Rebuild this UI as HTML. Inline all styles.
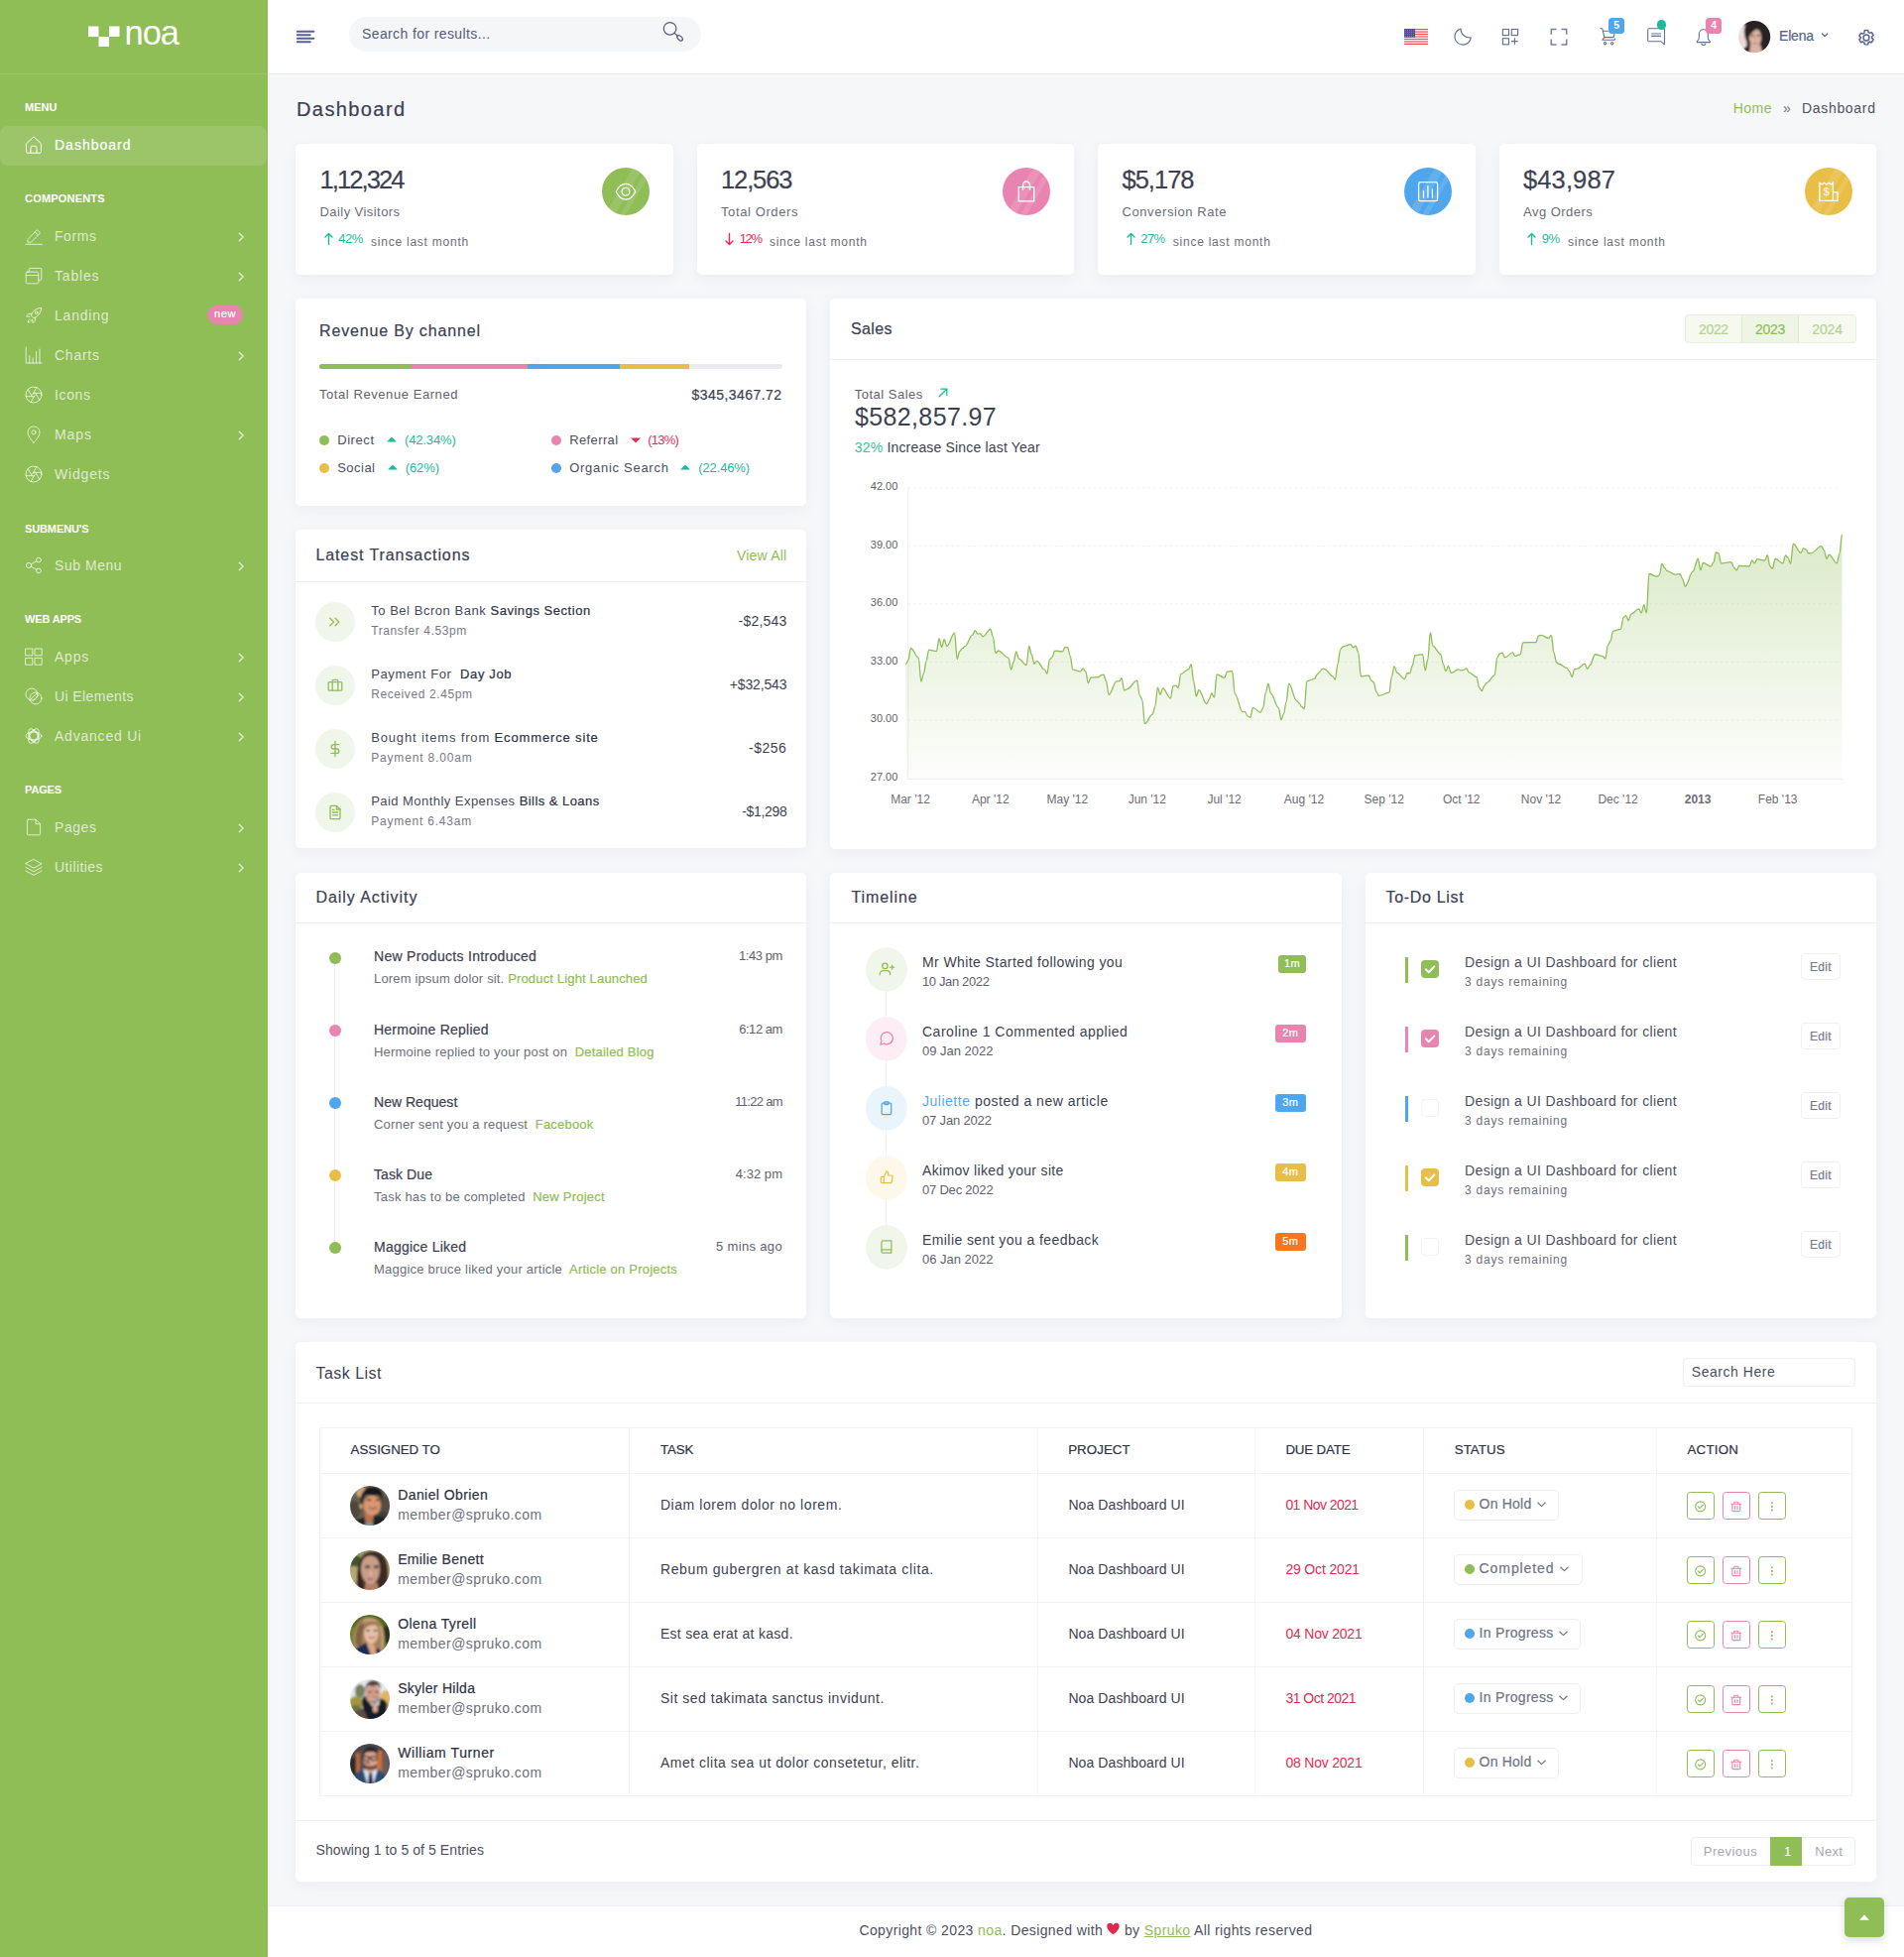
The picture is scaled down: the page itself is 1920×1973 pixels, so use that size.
<!DOCTYPE html>
<html lang="en"><head><meta charset="utf-8"><title>Noa Dashboard</title>
<style>
*{box-sizing:border-box;margin:0;padding:0}
html,body{width:1920px;height:1973px;overflow:hidden;background:#f6f7f9;font-family:"Liberation Sans",sans-serif;}
body{position:relative}
div,svg,span.t{position:absolute}
span.t{white-space:pre;line-height:1;display:block}
.wm{-webkit-text-stroke:0.2px currentColor}
.wn{-webkit-text-stroke:0 transparent;font-weight:normal}
.wb{font-weight:bold}
.card{background:#fff;border-radius:5px;box-shadow:0 4px 14px rgba(150,158,175,0.10)}
.hr{background:#eff0f4;height:1px}
svg{overflow:visible}
.si{fill:none;stroke:rgba(255,255,255,.72);stroke-width:1;stroke-linecap:round;stroke-linejoin:round}
.hi{fill:none;stroke:#626d93;stroke-width:1.15;stroke-linecap:round;stroke-linejoin:round}
</style></head><body>

<div style="left:0px;top:0px;width:270px;height:1973px;background:#8fbd56;"></div>
<div style="left:0px;top:74px;width:270px;height:1px;background:rgba(255,255,255,.12);"></div>
<svg style="left:88px;top:25px;" width="36" height="24" viewBox="0 0 36 24" ><rect x="1" y="1.5" width="10.5" height="10.5" fill="#fff"/><rect x="11.5" y="12" width="10.5" height="10" fill="#fff"/><rect x="22" y="1.5" width="10.5" height="10.5" fill="#fff"/></svg>
<span class="t" style="left:125.50px;top:15.80px;font-size:34.5px;letter-spacing:-1.021px;color:#fff;">noa</span>
<div style="left:0px;top:127px;width:269px;height:40px;background:rgba(255,255,255,.12);border-radius:8px;"></div>
<span class="t wb" style="left:25.00px;top:102.99px;font-size:11px;letter-spacing:0.028px;color:#fff;">MENU</span>
<span class="t wb" style="left:25.00px;top:194.69px;font-size:11px;letter-spacing:0.196px;color:#fff;">COMPONENTS</span>
<span class="t wb" style="left:25.00px;top:527.69px;font-size:11px;letter-spacing:-0.119px;color:#fff;">SUBMENU&#x27;S</span>
<span class="t wb" style="left:25.00px;top:619.09px;font-size:11px;letter-spacing:-0.158px;color:#fff;">WEB APPS</span>
<span class="t wb" style="left:25.00px;top:790.69px;font-size:11px;letter-spacing:-0.139px;color:#fff;">PAGES</span>
<svg class="si" style="left:25.200px;top:137.4px;stroke:#fff;" width="18" height="18" viewBox="0 0 18 18"><path d="M1.600 7.800 9 .9l7.400 6.900v8.200a1.200 1.200 0 0 1-1.200 1.200H2.800a1.200 1.200 0 0 1-1.200-1.200z"/><path d="M6 17.200v-5.400a1.600 1.600 0 0 1 1.600-1.600h2.800a1.600 1.600 0 0 1 1.600 1.600v5.400"/></svg>
<span class="t wm" style="left:55.00px;top:138.95px;font-size:14px;letter-spacing:1.012px;color:#fff;">Dashboard</span>
<svg class="si" style="left:25.200px;top:229.4px;" width="18" height="18" viewBox="0 0 18 18"><path d="M3.2 12.3 11.6 3.4a1.2 1.2 0 0 1 1.7 0l1.5 1.5a1.2 1.2 0 0 1 0 1.7L6.4 15.2H3.2z"/><path d="M10.2 4.9l3.1 3.1"/><path d="M1 17.3h16.5"/></svg>
<span class="t" style="left:55.00px;top:230.95px;font-size:14px;letter-spacing:0.567px;color:rgba(255,255,255,.72);">Forms</span>
<svg style="left:240px;top:234px" width="7" height="10" viewBox="0 0 7 10"><path d="M1.200 1.200 5.200 5 1.200 8.800" fill="none" stroke="rgba(255,255,255,.75)" stroke-width="1.300" stroke-linecap="round" stroke-linejoin="round"/></svg>
<svg class="si" style="left:25.200px;top:269.4px;" width="18" height="18" viewBox="0 0 18 18"><rect x="1.2" y="5.2" width="12.6" height="11.6" rx="1.2"/><path d="M1.2 8.6h12.6"/><path d="M4.2 5.2V2.6a1.2 1.2 0 0 1 1.2-1.2h10.2a1.2 1.2 0 0 1 1.2 1.2v9.6a1.2 1.2 0 0 1-1.2 1.2h-1.8"/><path d="M4.2 4h12.6" opacity=".0"/></svg>
<span class="t" style="left:55.00px;top:270.95px;font-size:14px;letter-spacing:0.805px;color:rgba(255,255,255,.72);">Tables</span>
<svg style="left:240px;top:274px" width="7" height="10" viewBox="0 0 7 10"><path d="M1.200 1.200 5.200 5 1.200 8.800" fill="none" stroke="rgba(255,255,255,.75)" stroke-width="1.300" stroke-linecap="round" stroke-linejoin="round"/></svg>
<svg class="si" style="left:25.200px;top:309.4px;" width="18" height="18" viewBox="0 0 18 18"><path d="M16.6 1.4c-4.2.1-7.3 2-9.6 5.9l-.9 1.6 3 3 1.6-.9c3.900-2.300 5.800-5.400 5.900-9.600z"/><circle cx="11.800" cy="6.200" r="1.400"/><path d="M7 7.300 3.600 7.500 1.500 10l3.300.5"/><path d="M10.700 11 10.500 14.400 8 16.500l-.5-3.300"/><path d="M5.200 12.800c-1.200.400-1.900 1.500-2.200 3.400 1.900-.300 3-1 3.400-2.200"/></svg>
<span class="t" style="left:55.00px;top:310.95px;font-size:14px;letter-spacing:0.796px;color:rgba(255,255,255,.72);">Landing</span>
<svg class="si" style="left:25.200px;top:349.4px;" width="18" height="18" viewBox="0 0 18 18"><path d="M1.200 1v16h16"/><path d="M4.800 17V9.500"/><path d="M8.200 17v-5"/><path d="M11.600 17V5.500"/><path d="M15 17V3"/></svg>
<span class="t" style="left:55.00px;top:350.95px;font-size:14px;letter-spacing:0.744px;color:rgba(255,255,255,.72);">Charts</span>
<svg style="left:240px;top:354px" width="7" height="10" viewBox="0 0 7 10"><path d="M1.200 1.200 5.200 5 1.200 8.800" fill="none" stroke="rgba(255,255,255,.75)" stroke-width="1.300" stroke-linecap="round" stroke-linejoin="round"/></svg>
<svg class="si" style="left:25.200px;top:389.4px;" width="18" height="18" viewBox="0 0 18 18"><circle cx="9" cy="9" r="8"/><path d="M11.900 1.600 7.600 9"/><path d="M16.800 7.300H8.300"/><path d="M14.900 14.500 10.600 7"/><path d="M6.100 16.400 10.400 9"/><path d="M1.200 10.700h8.500"/><path d="M3.100 3.500 7.400 11"/></svg>
<span class="t" style="left:55.00px;top:390.95px;font-size:14px;letter-spacing:0.648px;color:rgba(255,255,255,.72);">Icons</span>
<svg class="si" style="left:25.200px;top:429.4px;" width="18" height="18" viewBox="0 0 18 18"><path d="M9 17.200s6-5.700 6-10.300a6 6 0 0 0-12 0c0 4.600 6 10.300 6 10.300z"/><circle cx="9" cy="6.900" r="2.100"/></svg>
<span class="t" style="left:55.00px;top:430.95px;font-size:14px;letter-spacing:0.891px;color:rgba(255,255,255,.72);">Maps</span>
<svg style="left:240px;top:434px" width="7" height="10" viewBox="0 0 7 10"><path d="M1.200 1.200 5.200 5 1.200 8.800" fill="none" stroke="rgba(255,255,255,.75)" stroke-width="1.300" stroke-linecap="round" stroke-linejoin="round"/></svg>
<svg class="si" style="left:25.200px;top:469.4px;" width="18" height="18" viewBox="0 0 18 18"><circle cx="9" cy="9" r="8"/><path d="M11.900 1.600 7.600 9"/><path d="M16.800 7.300H8.300"/><path d="M14.900 14.500 10.600 7"/><path d="M6.100 16.400 10.400 9"/><path d="M1.200 10.700h8.500"/><path d="M3.100 3.500 7.400 11"/></svg>
<span class="t" style="left:55.00px;top:470.95px;font-size:14px;letter-spacing:0.832px;color:rgba(255,255,255,.72);">Widgets</span>
<svg class="si" style="left:25.200px;top:561.4px;" width="18" height="18" viewBox="0 0 18 18"><circle cx="4" cy="9" r="2.600"/><circle cx="14" cy="3.600" r="2.400"/><circle cx="14" cy="14.400" r="2.400"/><path d="M6.300 7.800 11.900 4.700"/><path d="M6.300 10.200 11.900 13.300"/></svg>
<span class="t" style="left:55.00px;top:562.95px;font-size:14px;letter-spacing:0.547px;color:rgba(255,255,255,.72);">Sub Menu</span>
<svg style="left:240px;top:566px" width="7" height="10" viewBox="0 0 7 10"><path d="M1.200 1.200 5.200 5 1.200 8.800" fill="none" stroke="rgba(255,255,255,.75)" stroke-width="1.300" stroke-linecap="round" stroke-linejoin="round"/></svg>
<svg class="si" style="left:25.200px;top:653.4px;" width="18" height="18" viewBox="0 0 18 18"><rect x="1" y="1" width="6.800" height="6.800"/><rect x="10.400" y="1" width="6.800" height="6.800"/><rect x="1" y="10.400" width="6.800" height="6.800"/><rect x="10.400" y="10.400" width="6.800" height="6.800"/></svg>
<span class="t" style="left:55.00px;top:654.95px;font-size:14px;letter-spacing:0.772px;color:rgba(255,255,255,.72);">Apps</span>
<svg style="left:240px;top:658px" width="7" height="10" viewBox="0 0 7 10"><path d="M1.200 1.200 5.200 5 1.200 8.800" fill="none" stroke="rgba(255,255,255,.75)" stroke-width="1.300" stroke-linecap="round" stroke-linejoin="round"/></svg>
<svg class="si" style="left:25.200px;top:693.4px;" width="18" height="18" viewBox="0 0 18 18"><circle cx="7" cy="7" r="6"/><circle cx="11" cy="11" r="6"/><path d="M6.200 11.800 11.800 6.200"/><path d="M8.400 13.400 13.400 8.400"/></svg>
<span class="t" style="left:55.00px;top:694.95px;font-size:14px;letter-spacing:0.412px;color:rgba(255,255,255,.72);">Ui Elements</span>
<svg style="left:240px;top:698px" width="7" height="10" viewBox="0 0 7 10"><path d="M1.200 1.200 5.200 5 1.200 8.800" fill="none" stroke="rgba(255,255,255,.75)" stroke-width="1.300" stroke-linecap="round" stroke-linejoin="round"/></svg>
<svg class="si" style="left:25.200px;top:733.4px;" width="18" height="18" viewBox="0 0 18 18"><ellipse cx="9" cy="9" rx="8" ry="3.900" transform="rotate(60 9 9)"/><ellipse cx="9" cy="9" rx="8" ry="3.900" transform="rotate(-60 9 9)"/><ellipse cx="9" cy="9" rx="8" ry="3.900"/><circle cx="9" cy="9" r="5.200"/></svg>
<span class="t" style="left:55.00px;top:734.95px;font-size:14px;letter-spacing:0.784px;color:rgba(255,255,255,.72);">Advanced Ui</span>
<svg style="left:240px;top:738px" width="7" height="10" viewBox="0 0 7 10"><path d="M1.200 1.200 5.200 5 1.200 8.800" fill="none" stroke="rgba(255,255,255,.75)" stroke-width="1.300" stroke-linecap="round" stroke-linejoin="round"/></svg>
<svg class="si" style="left:25.200px;top:825.4px;" width="18" height="18" viewBox="0 0 18 18"><path d="M3 1.200h7.500L15 5.700v9.900a1.200 1.200 0 0 1-1.200 1.200H3a1.200 1.200 0 0 1-1.200-1.200V2.400A1.200 1.200 0 0 1 3 1.200z" transform="translate(.6 0)"/><path d="M11 1.400v4.400h4.400"/></svg>
<span class="t" style="left:55.00px;top:826.95px;font-size:14px;letter-spacing:0.560px;color:rgba(255,255,255,.72);">Pages</span>
<svg style="left:240px;top:830px" width="7" height="10" viewBox="0 0 7 10"><path d="M1.200 1.200 5.200 5 1.200 8.800" fill="none" stroke="rgba(255,255,255,.75)" stroke-width="1.300" stroke-linecap="round" stroke-linejoin="round"/></svg>
<svg class="si" style="left:25.200px;top:865.4px;" width="18" height="18" viewBox="0 0 18 18"><path d="M9 1.500 17 5.800 9 10.100 1 5.800z"/><path d="M1 9.400 9 13.700l8-4.300"/><path d="M1 13 9 17.300l8-4.300"/></svg>
<span class="t" style="left:55.00px;top:866.95px;font-size:14px;letter-spacing:0.431px;color:rgba(255,255,255,.72);">Utilities</span>
<svg style="left:240px;top:870px" width="7" height="10" viewBox="0 0 7 10"><path d="M1.200 1.200 5.200 5 1.200 8.800" fill="none" stroke="rgba(255,255,255,.75)" stroke-width="1.300" stroke-linecap="round" stroke-linejoin="round"/></svg>
<div style="left:209px;top:308px;width:36px;height:19px;background:#e984b0;border-radius:10px;"></div>
<span class="t wm" style="left:216.00px;top:311.19px;font-size:11px;letter-spacing:0.607px;color:#fff;">new</span>
<div style="left:270px;top:0px;width:1650px;height:74px;background:#fff;"></div>
<div style="left:270px;top:74px;width:1650px;height:1px;background:#e9ebf1;"></div>
<svg style="left:299px;top:30px;" width="19" height="14" viewBox="0 0 19 14" ><g stroke="#55628f" stroke-width="1.900" stroke-linecap="round"><path d="M.8 1.700h16.600"/><path d="M.8 5.200h13"/><path d="M.8 8.700h16.600"/><path d="M.8 12.200h13"/></g></svg>
<div style="left:352px;top:17px;width:355px;height:35px;background:#f5f6f8;border-radius:18px;"></div>
<span class="t" style="left:365.00px;top:27.45px;font-size:14px;letter-spacing:0.387px;color:#535d7c;">Search for results...</span>
<svg style="left:667px;top:20px;" width="24" height="24" viewBox="0 0 24 24" ><g fill="none" stroke="#535d7c" stroke-width="1.250"><circle cx="8.600" cy="8.800" r="6.300"/><path d="M13.200 13.400 16.200 16.200" stroke-linecap="round"/><ellipse cx="18.600" cy="18.300" rx="3.300" ry="1.900" transform="rotate(42 18.600 18.300)"/></g></svg>
<svg style="left:1416px;top:29px;" width="24" height="16" viewBox="0 0 24 16" ><rect width="24" height="16" fill="#fff"/><rect y="0.00" width="24" height="1.23" fill="#f94e59"/><rect y="2.46" width="24" height="1.23" fill="#f94e59"/><rect y="4.92" width="24" height="1.23" fill="#f94e59"/><rect y="7.38" width="24" height="1.23" fill="#f94e59"/><rect y="9.85" width="24" height="1.23" fill="#f94e59"/><rect y="12.31" width="24" height="1.23" fill="#f94e59"/><rect y="14.77" width="24" height="1.23" fill="#f94e59"/><rect width="11" height="8.600" fill="#4a4ea0"/><circle cx="1.20" cy="1.20" r=".450" fill="#b9bbe0"/><circle cx="3.35" cy="1.20" r=".450" fill="#b9bbe0"/><circle cx="5.50" cy="1.20" r=".450" fill="#b9bbe0"/><circle cx="7.65" cy="1.20" r=".450" fill="#b9bbe0"/><circle cx="9.80" cy="1.20" r=".450" fill="#b9bbe0"/><circle cx="1.20" cy="3.30" r=".450" fill="#b9bbe0"/><circle cx="3.35" cy="3.30" r=".450" fill="#b9bbe0"/><circle cx="5.50" cy="3.30" r=".450" fill="#b9bbe0"/><circle cx="7.65" cy="3.30" r=".450" fill="#b9bbe0"/><circle cx="9.80" cy="3.30" r=".450" fill="#b9bbe0"/><circle cx="1.20" cy="5.40" r=".450" fill="#b9bbe0"/><circle cx="3.35" cy="5.40" r=".450" fill="#b9bbe0"/><circle cx="5.50" cy="5.40" r=".450" fill="#b9bbe0"/><circle cx="7.65" cy="5.40" r=".450" fill="#b9bbe0"/><circle cx="9.80" cy="5.40" r=".450" fill="#b9bbe0"/><circle cx="1.20" cy="7.50" r=".450" fill="#b9bbe0"/><circle cx="3.35" cy="7.50" r=".450" fill="#b9bbe0"/><circle cx="5.50" cy="7.50" r=".450" fill="#b9bbe0"/><circle cx="7.65" cy="7.50" r=".450" fill="#b9bbe0"/><circle cx="9.80" cy="7.50" r=".450" fill="#b9bbe0"/></svg>
<svg style="left:0;top:0" width="1920" height="74" viewBox="0 0 1920 74"><g fill="none" stroke="#65709a" stroke-width="1.150" stroke-linecap="round" stroke-linejoin="round"><path d="M1473 29A8.200 8.200 0 1 0 1483.300 37.900A9 9 0 0 1 1473 29z"/><g stroke-linejoin="miter"><rect x="1515.400" y="29.500" width="6.100" height="6.100"/><rect x="1524.300" y="29.500" width="6.300" height="6.100"/><rect x="1515.400" y="38.700" width="6.100" height="6.100"/></g><path d="M1527.400 38.600v6M1524.400 41.600h6"/></g><g fill="none" stroke="#77819f" stroke-width="1.500" stroke-linejoin="miter"><path d="M1564.300 34.800V29.500h5.300M1574.400 29.500h5.300v5.300M1579.700 39.600v5.300h-5.300M1569.600 44.900h-5.300v-5.300"/></g><g fill="none" stroke="#65709a" stroke-width="1.100" stroke-linecap="round" stroke-linejoin="round"><path d="M1614 28.500l1.900.600 1.900 8.500h9.300l1.300-5.800"/><path d="M1616.400 31.200h5"/><path d="M1617.800 37.600l-1.900 2.600h12.200l.6-1.200"/><circle cx="1618.600" cy="43.700" r="1.150"/><circle cx="1625.600" cy="43.700" r="1.150"/><path d="M1662.900 28.800h14.400a1.200 1.200 0 0 1 1.200 1.200v14.800l-3.500-3h-12.100a1.200 1.200 0 0 1-1.200-1.200V30a1.200 1.200 0 0 1 1.200-1.200z"/><path d="M1717.800 29.700a4.500 4.500 0 0 1 4.500 4.500v4.100c0 1.700.9 2.500 2.100 3.300v1h-13.200v-1c1.200-.8 2.100-1.600 2.100-3.300v-4.100a4.500 4.500 0 0 1 4.500-4.500z"/><path d="M1715.700 44a2.200 2.200 0 0 0 4.200 0"/></g><path d="M1665.200 33.900h9.800" stroke="#9aa2ba" stroke-width="1.500" fill="none"/><path d="M1665.200 36.300h9.800" stroke="#65709a" stroke-width="1.300" fill="none"/></svg>
<div style="left:1622px;top:18.3px;width:16px;height:15.6px;background:#4fa6ec;border-radius:3.500px;"></div>
<span class="t wb" style="left:1627.20px;top:20.31px;font-size:10.5px;letter-spacing:0.160px;color:#fff;">5</span>
<div style="left:1670.8px;top:20.4px;width:9.6px;height:9.6px;background:#1eb99a;border-radius:50%;"></div>
<div style="left:1720px;top:18.3px;width:16px;height:15.6px;background:#e984b0;border-radius:3.500px;"></div>
<span class="t wb" style="left:1725.20px;top:20.31px;font-size:10.5px;letter-spacing:0.160px;color:#fff;">4</span>
<svg style="left:1753px;top:20.9px;" width="32.2" height="32.2" viewBox="0 0 32.2 32.2" ><defs><clipPath id="cE"><circle cx="16.100" cy="16.100" r="16.100"/></clipPath><filter id="bl1" x="-10%" y="-10%" width="120%" height="120%"><feGaussianBlur stdDeviation="0.85"/></filter></defs><g clip-path="url(#cE)"><g filter="url(#bl1)"><rect x="-2" y="-2" width="37" height="37" fill="#2a2124"/><path d="M-2 4h9c-1.500 4-1.500 8-.5 12 1 3.500 2.500 6 2 9l-4 4-6.500 1z" fill="#ece2e2"/><path d="M0 15c2.500-1 4.500 0 5.500 2l1.500 6-4 3-3-2z" fill="#f0d6d6"/><path d="M12 23c2 3 7.500 3.400 10 .5l3 12h-14z" fill="#d9b3a6"/><ellipse cx="17" cy="16.800" rx="6.100" ry="9.400" fill="#dcb4a3"/><path d="M10.300 17c-.8-7 1.800-11.800 6.500-12 4.500-.2 7.600 3.400 7.200 10-1-3-2.800-5.600-5.200-6.600-2.600.6-6 3.600-8.500 8.600z" fill="#2a2124"/><path d="M12.800 14.800h3.200M18.600 14.800h3.200" stroke="#3d2a28" stroke-width="1.200"/><path d="M15.200 22.300q1.900.9 3.800 0" stroke="#b8666d" stroke-width="1.200" fill="none"/><path d="M16.900 16v3.600" stroke="#c79a8a" stroke-width=".8"/></g></g></svg>
<span class="t wm" style="left:1794.00px;top:29.15px;font-size:14px;letter-spacing:-0.182px;color:#56628f;">Elena</span>
<svg style="left:1836px;top:33.200px" width="9" height="6" viewBox="0 0 9 6"><path d="M1.500 1 4.150 3.650 6.800 1" fill="none" stroke="#56628f" stroke-width="1.200" stroke-linecap="round" stroke-linejoin="round"/></svg>
<svg style="left:1872.9px;top:28.9px;" width="18" height="18" viewBox="0 0 18 18" ><g fill="none" stroke="#56628f" stroke-width="1.500" stroke-linejoin="round" transform="translate(9 9) scale(.970) translate(-9 -9)"><circle cx="9" cy="9" r="3"/><path d="M7.300 1.200h3.400l.5 2.200 1.300.75 2.150-.700 1.700 2.950-1.650 1.500v1.500l1.650 1.500-1.700 2.950-2.150-.700-1.300.75-.5 2.200H7.300l-.5-2.200-1.300-.75-2.150.700-1.700-2.950 1.650-1.500V8.650L1.650 7.150l1.700-2.950 2.150.700 1.300-.75z"/></g></svg>
<span class="t wm" style="left:299.00px;top:100.07px;font-size:20px;letter-spacing:1.406px;color:#3a4053;">Dashboard</span>
<span class="t" style="left:1747.70px;top:102.15px;font-size:14px;letter-spacing:0.488px;color:#8fbd56;">Home</span>
<span class="t" style="left:1798.00px;top:101.65px;font-size:14px;letter-spacing:0.614px;color:#6c6f7c;">»</span>
<span class="t" style="left:1817.00px;top:102.15px;font-size:14px;letter-spacing:0.679px;color:#4d5264;">Dashboard</span>
<div class="card" style="left:298px;top:145px;width:380.5px;height:131.5px;"></div>
<span class="t wm" style="left:322.50px;top:168.91px;font-size:25.5px;letter-spacing:-1.908px;color:#3c4152;">1,12,324</span>
<span class="t" style="left:322.50px;top:207.00px;font-size:13px;letter-spacing:0.436px;color:#6a6d7a;">Daily Visitors</span>
<svg style="left:326.5px;top:234px" width="9" height="14" viewBox="0 0 9 14"><g fill="none" stroke="#1eb99a" stroke-width="1.400" stroke-linecap="round" stroke-linejoin="round"><path d="M4.500 12.500V1.500M1 5 4.500 1.500 8 5"/></g></svg>
<span class="t" style="left:341.30px;top:234.00px;font-size:13px;letter-spacing:-0.506px;color:#1eb99a;">42%</span>
<span class="t" style="left:374.10px;top:237.84px;font-size:12px;letter-spacing:0.756px;color:#6a6d7a;">since last month</span>
<svg style="left:606.5px;top:169px;" width="48" height="48" viewBox="0 0 48 48" ><defs><clipPath id="cs0"><circle cx="24" cy="24" r="24"/></clipPath></defs><circle cx="24" cy="24" r="24" fill="#8fbd56"/><g clip-path="url(#cs0)" fill="#fff" opacity=".115"><path d="M31 0h10L12.900 48h-10z"/><path d="M46 0h6L23.900 48h-6z"/></g><g fill="none" stroke="#fff" stroke-width="1.250"><path d="M14.200 24.200c2.600-5.300 5.900-7.800 9.800-7.800s7.200 2.500 9.800 7.800c-2.600 5.300-5.900 7.800-9.800 7.800s-7.200-2.500-9.800-7.800z" stroke-linejoin="round"/><circle cx="24" cy="24.200" r="3.900"/></g></svg>
<div class="card" style="left:702.5px;top:145px;width:380.5px;height:131.5px;"></div>
<span class="t wm" style="left:727.00px;top:168.91px;font-size:25.5px;letter-spacing:-1.116px;color:#3c4152;">12,563</span>
<span class="t" style="left:727.00px;top:207.00px;font-size:13px;letter-spacing:0.600px;color:#6a6d7a;">Total Orders</span>
<svg style="left:731px;top:234px" width="9" height="14" viewBox="0 0 9 14"><g fill="none" stroke="#de2e55" stroke-width="1.400" stroke-linecap="round" stroke-linejoin="round"><path d="M4.500 1.500v11M1 9l3.500 3.500L8 9"/></g></svg>
<span class="t" style="left:745.80px;top:234.00px;font-size:13px;letter-spacing:-1.406px;color:#de2e55;">12%</span>
<span class="t" style="left:775.90px;top:237.84px;font-size:12px;letter-spacing:0.756px;color:#6a6d7a;">since last month</span>
<svg style="left:1011px;top:169px;" width="48" height="48" viewBox="0 0 48 48" ><defs><clipPath id="cs1"><circle cx="24" cy="24" r="24"/></clipPath></defs><circle cx="24" cy="24" r="24" fill="#e984b0"/><g clip-path="url(#cs1)" fill="#fff" opacity=".115"><path d="M31 0h10L12.900 48h-10z"/><path d="M46 0h6L23.900 48h-6z"/></g><g fill="none" stroke="#fff" stroke-width="1.300"><path d="M16.300 19.700h15.400v14.200H16.300z"/><path d="M20.500 22.800v-5.300a3.500 3.500 0 0 1 7 0v5.300" stroke-linecap="butt"/></g></svg>
<div class="card" style="left:1107px;top:145px;width:380.5px;height:131.5px;"></div>
<span class="t wm" style="left:1131.50px;top:168.91px;font-size:25.5px;letter-spacing:-0.999px;color:#3c4152;">$5,178</span>
<span class="t" style="left:1131.50px;top:207.00px;font-size:13px;letter-spacing:0.578px;color:#6a6d7a;">Conversion Rate</span>
<svg style="left:1135.5px;top:234px" width="9" height="14" viewBox="0 0 9 14"><g fill="none" stroke="#1eb99a" stroke-width="1.400" stroke-linecap="round" stroke-linejoin="round"><path d="M4.500 12.500V1.500M1 5 4.500 1.500 8 5"/></g></svg>
<span class="t" style="left:1150.30px;top:234.00px;font-size:13px;letter-spacing:-0.606px;color:#1eb99a;">27%</span>
<span class="t" style="left:1182.80px;top:237.84px;font-size:12px;letter-spacing:0.756px;color:#6a6d7a;">since last month</span>
<svg style="left:1415.5px;top:169px;" width="48" height="48" viewBox="0 0 48 48" ><defs><clipPath id="cs2"><circle cx="24" cy="24" r="24"/></clipPath></defs><circle cx="24" cy="24" r="24" fill="#4fa6ec"/><g clip-path="url(#cs2)" fill="#fff" opacity=".115"><path d="M31 0h10L12.900 48h-10z"/><path d="M46 0h6L23.900 48h-6z"/></g><g fill="none" stroke="#fff" stroke-width="1.300"><rect x="14.600" y="14.700" width="19" height="19" rx="1.800"/><path d="M19.500 30.200v-6.600M23.900 30.200V18.600M28.400 30.200v-8.400" stroke-linecap="round"/></g></svg>
<div class="card" style="left:1511.5px;top:145px;width:380.5px;height:131.5px;"></div>
<span class="t wm" style="left:1536.00px;top:168.91px;font-size:25.5px;letter-spacing:0.117px;color:#3c4152;">$43,987</span>
<span class="t" style="left:1536.00px;top:207.00px;font-size:13px;letter-spacing:0.479px;color:#6a6d7a;">Avg Orders</span>
<svg style="left:1540px;top:234px" width="9" height="14" viewBox="0 0 9 14"><g fill="none" stroke="#1eb99a" stroke-width="1.400" stroke-linecap="round" stroke-linejoin="round"><path d="M4.500 12.500V1.500M1 5 4.500 1.500 8 5"/></g></svg>
<span class="t" style="left:1554.80px;top:234.00px;font-size:13px;letter-spacing:-0.445px;color:#1eb99a;">9%</span>
<span class="t" style="left:1581.00px;top:237.84px;font-size:12px;letter-spacing:0.756px;color:#6a6d7a;">since last month</span>
<svg style="left:1820px;top:169px;" width="48" height="48" viewBox="0 0 48 48" ><defs><clipPath id="cs3"><circle cx="24" cy="24" r="24"/></clipPath></defs><circle cx="24" cy="24" r="24" fill="#e9be47"/><g clip-path="url(#cs3)" fill="#fff" opacity=".115"><path d="M31 0h10L12.900 48h-10z"/><path d="M46 0h6L23.900 48h-6z"/></g><g fill="none" stroke="#fff" stroke-width="1.250" stroke-linejoin="miter"><path d="M14.900 33.300V15.200l2.300 1.700 2.300-1.700 2.300 1.700 2.300-1.700 2.300 1.700 2.000-1.700v18.100z"/><path d="M28.400 24.800h4.700v8.500h-4.700"/></g><text x="21.600" y="27.900" font-size="10.500" fill="#fff" text-anchor="middle" font-family="Liberation Sans">$</text></svg>
<div class="card" style="left:298px;top:301px;width:515px;height:208.8px;"></div>
<span class="t wm" style="left:322.00px;top:326.06px;font-size:16px;letter-spacing:0.841px;color:#3a4053;">Revenue By channel</span>
<div style="left:322px;top:367px;width:466.6px;height:5px;background:#ebebee;border-radius:3px;overflow:hidden;"><div style="left:0;top:0;height:5px;width:93.300px;background:#8fbd56"></div><div style="left:93.300px;top:0;height:5px;width:116.700px;background:#e984b0"></div><div style="left:210px;top:0;height:5px;width:93.300px;background:#4fa6ec"></div><div style="left:303.300px;top:0;height:5px;width:70px;background:#e9be47"></div></div>
<span class="t" style="left:322.00px;top:391.00px;font-size:13px;letter-spacing:0.568px;color:#5f6270;">Total Revenue Earned</span>
<span class="t wm" style="left:697.60px;top:390.85px;font-size:14px;letter-spacing:0.446px;color:#3c4152;">$345,3467.72</span>
<div style="left:322px;top:439px;width:10px;height:10px;background:#8fbd56;border-radius:50%;"></div>
<span class="t" style="left:340.20px;top:436.90px;font-size:13px;letter-spacing:0.575px;color:#4b4f5f;">Direct</span>
<svg style="left:389.8px;top:439.5px" width="10" height="6" viewBox="0 0 10 6"><path d="M0 5.500 5 .5l5 5z" fill="#1eb99a"/></svg>
<span class="t" style="left:408.00px;top:437.30px;font-size:13px;letter-spacing:-0.144px;color:#1eb99a;">(42.34%)</span>
<div style="left:556px;top:439px;width:10px;height:10px;background:#e984b0;border-radius:50%;"></div>
<span class="t" style="left:574.20px;top:436.90px;font-size:13px;letter-spacing:0.383px;color:#4b4f5f;">Referral</span>
<svg style="left:635.5px;top:441px" width="10" height="6" viewBox="0 0 10 6"><path d="M0 .5h10L5 5.500z" fill="#de2e55"/></svg>
<span class="t" style="left:653.30px;top:437.30px;font-size:13px;letter-spacing:-0.796px;color:#de2e55;">(13%)</span>
<div style="left:322px;top:467px;width:10px;height:10px;background:#e9be47;border-radius:50%;"></div>
<span class="t" style="left:340.20px;top:464.90px;font-size:13px;letter-spacing:0.482px;color:#4b4f5f;">Social</span>
<svg style="left:391px;top:467.5px" width="10" height="6" viewBox="0 0 10 6"><path d="M0 5.500 5 .5l5 5z" fill="#1eb99a"/></svg>
<span class="t" style="left:408.80px;top:465.30px;font-size:13px;letter-spacing:-0.116px;color:#1eb99a;">(62%)</span>
<div style="left:556px;top:467px;width:10px;height:10px;background:#4fa6ec;border-radius:50%;"></div>
<span class="t" style="left:574.20px;top:464.90px;font-size:13px;letter-spacing:0.720px;color:#4b4f5f;">Organic Search</span>
<svg style="left:686.2px;top:467.5px" width="10" height="6" viewBox="0 0 10 6"><path d="M0 5.500 5 .5l5 5z" fill="#1eb99a"/></svg>
<span class="t" style="left:704.30px;top:465.30px;font-size:13px;letter-spacing:-0.131px;color:#1eb99a;">(22.46%)</span>
<div class="card" style="left:298px;top:534px;width:515px;height:320.7px;"></div>
<span class="t wm" style="left:318.40px;top:551.86px;font-size:16px;letter-spacing:0.908px;color:#3a4053;">Latest Transactions</span>
<span class="t" style="left:742.90px;top:553.15px;font-size:14px;letter-spacing:0.216px;color:#8fbd56;">View All</span>
<div class="hr" style="left:298px;top:586px;width:515px;height:1px;"></div>
<svg style="left:318.400px;top:607.2px" width="40" height="40" viewBox="0 0 40 40"><circle cx="20" cy="20" r="20" fill="#f1f6ea"/><g fill="none" stroke="#8fbd56" stroke-width="1.300" stroke-linecap="round" stroke-linejoin="round"><path d="M14.800 16.200 18.600 20l-3.800 3.800M20 16.200 23.800 20 20 23.800" /></g></svg>
<span class="t" style="left:374.20px;top:608.80px;font-size:13px;letter-spacing:0.537px;color:#454a5b;"><span class="" style="color:#454a5b;">To Bel Bcron Bank </span><span class="wm" style="color:#2c3245;">Savings Section</span></span>
<span class="t" style="left:374.20px;top:629.54px;font-size:12px;letter-spacing:0.607px;color:#777a86;">Transfer 4.53pm</span>
<span class="t" style="left:744.60px;top:619.05px;font-size:14px;letter-spacing:0.188px;color:#3c4152;">-$2,543</span>
<svg style="left:318.400px;top:671.2px" width="40" height="40" viewBox="0 0 40 40"><circle cx="20" cy="20" r="20" fill="#f1f6ea"/><g fill="none" stroke="#8fbd56" stroke-width="1.300" stroke-linecap="round" stroke-linejoin="round"><rect x="13.200" y="16.600" width="13.600" height="8.600" rx="1"/><path d="M17.200 25.200v-9.800a1 1 0 0 1 1-1h3.600a1 1 0 0 1 1 1v9.800"/></g></svg>
<span class="t" style="left:374.20px;top:672.80px;font-size:13px;letter-spacing:0.634px;color:#454a5b;"><span class="" style="color:#454a5b;">Payment For  </span><span class="wm" style="color:#2c3245;">Day Job</span></span>
<span class="t" style="left:374.20px;top:693.54px;font-size:12px;letter-spacing:0.601px;color:#777a86;">Received 2.45pm</span>
<span class="t" style="left:735.80px;top:683.05px;font-size:14px;letter-spacing:-0.148px;color:#3c4152;">+$32,543</span>
<svg style="left:318.400px;top:735.2px" width="40" height="40" viewBox="0 0 40 40"><circle cx="20" cy="20" r="20" fill="#f1f6ea"/><g fill="none" stroke="#8fbd56" stroke-width="1.300" stroke-linecap="round" stroke-linejoin="round"><path d="M20 12.500v15"/><path d="M23.600 15.600h-5.200a2.200 2.200 0 0 0 0 4.400h3.200a2.200 2.200 0 0 1 0 4.400h-5.600"/></g></svg>
<span class="t" style="left:374.20px;top:736.80px;font-size:13px;letter-spacing:0.850px;color:#454a5b;"><span class="" style="color:#454a5b;">Bought items from </span><span class="wm" style="color:#2c3245;">Ecommerce site</span></span>
<span class="t" style="left:374.20px;top:757.54px;font-size:12px;letter-spacing:0.834px;color:#777a86;">Payment 8.00am</span>
<span class="t" style="left:755.10px;top:747.05px;font-size:14px;letter-spacing:0.498px;color:#3c4152;">-$256</span>
<svg style="left:318.400px;top:799.2px" width="40" height="40" viewBox="0 0 40 40"><circle cx="20" cy="20" r="20" fill="#f1f6ea"/><g fill="none" stroke="#8fbd56" stroke-width="1.300" stroke-linecap="round" stroke-linejoin="round"><path d="M21.400 13.400h-5.200a1.200 1.200 0 0 0-1.200 1.200v10.800a1.200 1.200 0 0 0 1.200 1.200h7.600a1.200 1.200 0 0 0 1.200-1.200V17z"/><path d="M21.400 13.400V17H25"/><path d="M17.400 20h5.200M17.400 22.800h5.200M17.400 17.400h1.600"/></g></svg>
<span class="t" style="left:374.20px;top:800.80px;font-size:13px;letter-spacing:0.454px;color:#454a5b;"><span class="" style="color:#454a5b;">Paid Monthly Expenses </span><span class="wm" style="color:#2c3245;">Bills &amp; Loans</span></span>
<span class="t" style="left:374.20px;top:821.54px;font-size:12px;letter-spacing:0.792px;color:#777a86;">Payment 6.43am</span>
<span class="t" style="left:748.30px;top:811.05px;font-size:14px;letter-spacing:-0.341px;color:#3c4152;">-$1,298</span>
<div class="card" style="left:837.3px;top:301px;width:1054.7px;height:554.7px;"></div>
<span class="t wm" style="left:858.00px;top:324.26px;font-size:16px;letter-spacing:0.395px;color:#3a4053;">Sales</span>
<div class="hr" style="left:837.3px;top:362px;width:1054.7px;height:1px;"></div>
<div style="left:1699px;top:317px;width:173px;height:29px;background:#f5f9ef;border:1px solid #e6f0d9;border-radius:4px;"></div>
<div style="left:1756px;top:317px;width:58px;height:29px;background:#eef5e5;border-left:1px solid #dcebc9;border-right:1px solid #dcebc9;border-top:1px solid #e6f0d9;border-bottom:1px solid #e6f0d9;"></div>
<span class="t wm" style="left:1713.00px;top:324.65px;font-size:14px;letter-spacing:-0.336px;color:#b4d48f;">2022</span>
<span class="t wm" style="left:1770.00px;top:324.65px;font-size:14px;letter-spacing:-0.286px;color:#8fbd56;">2023</span>
<span class="t wm" style="left:1827.35px;top:324.65px;font-size:14px;letter-spacing:-0.161px;color:#b4d48f;">2024</span>
<span class="t" style="left:861.80px;top:391.00px;font-size:13px;letter-spacing:0.492px;color:#5f6270;">Total Sales</span>
<svg style="left:945.500px;top:390.500px" width="10" height="10" viewBox="0 0 10 10"><path d="M1.200 8.800 8.500 1.500M2.800 1.200h6v6" fill="none" stroke="#1eb99a" stroke-width="1.300" stroke-linecap="round" stroke-linejoin="round"/></svg>
<span class="t" style="left:862.00px;top:408.14px;font-size:25px;letter-spacing:0.361px;color:#3c4152;">$582,857.97</span>
<span class="t" style="left:861.80px;top:444.15px;font-size:14px;letter-spacing:0.174px;color:#3c4152;"><span class="" style="color:#3cc0a0;">32%</span> Increase Since last Year</span>
<svg style="left:0;top:0;font-family:'Liberation Sans',sans-serif" width="1920" height="900" viewBox="0 0 1920 900"><defs><linearGradient id="ag" x1="0" y1="539" x2="0" y2="784.700" gradientUnits="userSpaceOnUse"><stop offset="0" stop-color="#8fbd56" stop-opacity=".320"/><stop offset="1" stop-color="#8fbd56" stop-opacity=".020"/></linearGradient></defs><path d="M915.500 491.80H1854" stroke="#eeeff3" stroke-width="1" stroke-dasharray="2.500 3" fill="none"/><path d="M915.500 550.38H1854" stroke="#eeeff3" stroke-width="1" stroke-dasharray="2.500 3" fill="none"/><path d="M915.500 608.96H1854" stroke="#eeeff3" stroke-width="1" stroke-dasharray="2.500 3" fill="none"/><path d="M915.500 667.54H1854" stroke="#eeeff3" stroke-width="1" stroke-dasharray="2.500 3" fill="none"/><path d="M915.500 726.12H1854" stroke="#eeeff3" stroke-width="1" stroke-dasharray="2.500 3" fill="none"/><path d="M915.750 491.8V784.7" stroke="#eeeff3" stroke-width="1"/><path d="M915.500 785.300H1858" stroke="#e8e9ed" stroke-width="1"/><path d="M913.30 669.69C914.21 669.69 914.98 665.59 915.89 665.59C916.80 665.59 917.58 653.29 918.49 653.29C921.21 653.29 923.54 663.24 926.27 663.24C927.18 663.24 927.95 687.26 928.86 687.26C929.77 687.26 930.55 679.06 931.46 679.06C932.36 679.06 933.14 666.56 934.05 666.56C934.96 666.56 935.74 655.04 936.64 655.04C939.37 655.04 941.70 656.61 944.43 656.61C945.33 656.61 946.11 643.72 947.02 643.72C947.93 643.72 948.71 652.50 949.61 652.50C950.52 652.50 951.30 644.69 952.21 644.69C953.12 644.69 953.89 651.53 954.80 651.53C957.53 651.53 959.86 638.05 962.58 638.05C963.49 638.05 964.27 664.42 965.18 664.42C966.09 664.42 966.86 656.61 967.77 656.61C968.68 656.61 969.46 653.68 970.37 653.68C971.27 653.68 972.05 651.72 972.96 651.72C975.65 651.72 977.95 640.20 980.63 640.20C981.54 640.20 982.32 635.71 983.23 635.71C984.14 635.71 984.91 639.03 985.82 639.03C986.73 639.03 987.51 638.64 988.42 638.64C989.32 638.64 990.10 641.96 991.01 641.96C993.73 641.96 996.07 634.34 998.79 634.34C999.70 634.34 1000.48 641.96 1001.39 641.96C1002.29 641.96 1003.07 658.56 1003.98 658.56C1004.89 658.56 1005.67 656.02 1006.57 656.02C1010.21 656.02 1013.32 663.24 1016.95 663.24C1017.86 663.24 1018.64 675.16 1019.54 675.16C1020.45 675.16 1021.23 667.34 1022.14 667.34C1023.05 667.34 1023.82 656.80 1024.73 656.80C1025.64 656.80 1026.42 664.03 1027.33 664.03C1030.05 664.03 1032.38 670.66 1035.11 670.66C1036.02 670.66 1036.79 651.14 1037.70 651.14C1038.61 651.14 1039.39 659.92 1040.30 659.92C1041.20 659.92 1041.98 669.30 1042.89 669.30C1043.80 669.30 1044.58 666.37 1045.48 666.37C1048.21 666.37 1050.54 674.96 1053.27 674.96C1054.17 674.96 1054.95 679.26 1055.86 679.26C1056.77 679.26 1057.55 665.00 1058.45 665.00C1059.36 665.00 1060.14 662.46 1061.05 662.46C1061.96 662.46 1062.73 656.21 1063.64 656.21C1066.37 656.21 1068.70 656.80 1071.42 656.80C1072.33 656.80 1073.11 652.50 1074.02 652.50C1074.93 652.50 1075.70 652.70 1076.61 652.70C1077.52 652.70 1078.30 661.29 1079.21 661.29C1080.11 661.29 1080.89 675.16 1081.80 675.16C1084.52 675.16 1086.86 676.91 1089.58 676.91C1090.49 676.91 1091.27 673.98 1092.18 673.98C1093.08 673.98 1093.86 676.91 1094.77 676.91C1095.68 676.91 1096.46 688.63 1097.36 688.63C1098.27 688.63 1099.05 683.16 1099.96 683.16C1102.68 683.16 1105.02 682.58 1107.74 682.58C1108.65 682.58 1109.43 680.62 1110.33 680.62C1111.24 680.62 1112.02 680.04 1112.93 680.04C1113.84 680.04 1114.61 686.87 1115.52 686.87C1116.43 686.87 1117.21 700.54 1118.12 700.54C1120.84 700.54 1123.17 686.87 1125.90 686.87C1126.81 686.87 1127.58 686.87 1128.49 686.87C1129.40 686.87 1130.18 683.55 1131.09 683.55C1131.99 683.55 1132.77 696.05 1133.68 696.05C1134.59 696.05 1135.37 694.88 1136.27 694.88C1139.91 694.88 1143.02 686.09 1146.65 686.09C1147.56 686.09 1148.34 700.93 1149.24 700.93C1150.15 700.93 1150.93 705.62 1151.84 705.62C1152.75 705.62 1153.52 729.63 1154.43 729.63C1157.16 729.63 1159.49 720.07 1162.21 720.07C1163.12 720.07 1163.90 712.45 1164.81 712.45C1165.72 712.45 1166.49 693.12 1167.40 693.12C1168.31 693.12 1169.09 700.34 1170.00 700.34C1170.90 700.34 1171.68 693.90 1172.59 693.90C1175.31 693.90 1177.65 704.05 1180.37 704.05C1181.28 704.05 1182.06 691.56 1182.97 691.56C1183.87 691.56 1184.65 691.17 1185.56 691.17C1186.47 691.17 1187.25 693.51 1188.15 693.51C1189.06 693.51 1189.84 679.45 1190.75 679.45C1193.47 679.45 1195.81 674.76 1198.53 674.76C1199.44 674.76 1200.22 669.69 1201.12 669.69C1202.03 669.69 1202.81 687.26 1203.72 687.26C1204.63 687.26 1205.40 702.10 1206.31 702.10C1207.22 702.10 1208.00 695.46 1208.91 695.46C1211.63 695.46 1213.96 709.72 1216.69 709.72C1217.60 709.72 1218.37 705.23 1219.28 705.23C1220.19 705.23 1220.97 698.59 1221.88 698.59C1222.78 698.59 1223.56 703.27 1224.47 703.27C1225.38 703.27 1226.16 679.84 1227.06 679.84C1229.79 679.84 1232.12 683.36 1234.85 683.36C1235.75 683.36 1236.53 677.11 1237.44 677.11C1239.26 677.11 1240.81 676.72 1242.63 676.72C1243.54 676.72 1244.31 699.37 1245.22 699.37C1247.95 699.37 1250.28 717.72 1253.00 717.72C1253.91 717.72 1254.69 717.53 1255.60 717.53C1256.51 717.53 1257.28 722.21 1258.19 722.21C1259.10 722.21 1259.88 723.39 1260.79 723.39C1261.69 723.39 1262.47 713.43 1263.38 713.43C1266.10 713.43 1268.44 718.31 1271.16 718.31C1272.07 718.31 1272.85 713.43 1273.76 713.43C1274.66 713.43 1275.44 698.20 1276.35 698.20C1277.26 698.20 1278.04 689.21 1278.94 689.21C1279.85 689.21 1280.63 699.17 1281.54 699.17C1284.26 699.17 1286.60 713.62 1289.32 713.62C1290.23 713.62 1291.01 725.73 1291.91 725.73C1292.82 725.73 1293.60 719.68 1294.51 719.68C1295.42 719.68 1296.19 707.57 1297.10 707.57C1298.01 707.57 1298.79 689.21 1299.70 689.21C1302.42 689.21 1304.75 706.40 1307.48 706.40C1308.39 706.40 1309.16 708.94 1310.07 708.94C1310.98 708.94 1311.76 712.65 1312.67 712.65C1313.57 712.65 1314.35 714.79 1315.26 714.79C1316.17 714.79 1316.95 686.68 1317.85 686.68C1320.58 686.68 1322.91 684.33 1325.64 684.33C1326.54 684.33 1327.32 679.84 1328.23 679.84C1329.14 679.84 1329.92 677.11 1330.82 677.11C1331.73 677.11 1332.51 674.37 1333.42 674.37C1334.33 674.37 1335.10 674.57 1336.01 674.57C1338.74 674.57 1341.07 681.79 1343.79 681.79C1344.70 681.79 1345.48 685.11 1346.39 685.11C1347.30 685.11 1348.07 669.30 1348.98 669.30C1349.89 669.30 1350.67 654.85 1351.58 654.85C1352.48 654.85 1353.26 651.92 1354.17 651.92C1356.89 651.92 1359.23 649.58 1361.95 649.58C1362.86 649.58 1363.64 652.89 1364.55 652.89C1365.45 652.89 1366.23 651.14 1367.14 651.14C1368.05 651.14 1368.83 657.78 1369.73 657.78C1370.64 657.78 1371.42 681.99 1372.33 681.99C1375.05 681.99 1377.39 680.82 1380.11 680.82C1381.02 680.82 1381.80 685.90 1382.70 685.90C1383.61 685.90 1384.39 687.85 1385.30 687.85C1386.21 687.85 1386.98 697.61 1387.89 697.61C1388.80 697.61 1389.58 701.32 1390.49 701.32C1394.12 701.32 1397.23 698.20 1400.86 698.20C1401.77 698.20 1402.55 681.99 1403.46 681.99C1404.36 681.99 1405.14 671.64 1406.05 671.64C1406.96 671.64 1407.74 678.08 1408.64 678.08C1411.37 678.08 1413.70 684.53 1416.43 684.53C1417.33 684.53 1418.11 678.67 1419.02 678.67C1419.93 678.67 1420.71 678.87 1421.61 678.87C1422.52 678.87 1423.30 671.25 1424.21 671.25C1425.12 671.25 1425.89 660.90 1426.80 660.90C1429.53 660.90 1431.86 659.53 1434.58 659.53C1435.49 659.53 1436.27 675.94 1437.18 675.94C1438.09 675.94 1438.86 665.20 1439.77 665.20C1440.68 665.20 1441.46 637.66 1442.37 637.66C1443.27 637.66 1444.05 651.33 1444.96 651.33C1447.68 651.33 1450.02 659.53 1452.74 659.53C1453.65 659.53 1454.43 669.49 1455.34 669.49C1456.24 669.49 1457.02 676.72 1457.93 676.72C1458.84 676.72 1459.62 671.45 1460.52 671.45C1461.43 671.45 1462.21 678.47 1463.12 678.47C1465.84 678.47 1468.18 674.96 1470.90 674.96C1471.81 674.96 1472.59 675.94 1473.49 675.94C1474.40 675.94 1475.18 675.35 1476.09 675.35C1477.00 675.35 1477.77 673.79 1478.68 673.79C1479.59 673.79 1480.37 677.89 1481.28 677.89C1484.00 677.89 1486.33 682.58 1489.06 682.58C1489.97 682.58 1490.74 693.32 1491.65 693.32C1492.56 693.32 1493.34 696.63 1494.25 696.63C1495.15 696.63 1495.93 691.36 1496.84 691.36C1497.75 691.36 1498.53 688.24 1499.43 688.24C1502.16 688.24 1504.49 680.62 1507.22 680.62C1508.12 680.62 1508.90 662.85 1509.81 662.85C1510.72 662.85 1511.50 658.95 1512.40 658.95C1513.31 658.95 1514.09 658.17 1515.00 658.17C1515.91 658.17 1516.68 662.85 1517.59 662.85C1520.32 662.85 1522.65 657.97 1525.37 657.97C1526.28 657.97 1527.06 661.49 1527.97 661.49C1528.88 661.49 1529.65 660.51 1530.56 660.51C1531.47 660.51 1532.25 659.73 1533.16 659.73C1534.06 659.73 1534.84 647.82 1535.75 647.82C1540.33 647.82 1544.25 647.62 1548.83 647.62C1549.74 647.62 1550.51 640.98 1551.42 640.98C1552.33 640.98 1553.11 640.40 1554.02 640.40C1556.74 640.40 1559.07 643.33 1561.80 643.33C1562.71 643.33 1563.48 640.40 1564.39 640.40C1565.30 640.40 1566.08 658.36 1566.99 658.36C1567.89 658.36 1568.67 667.93 1569.58 667.93C1570.49 667.93 1571.27 669.49 1572.17 669.49C1574.90 669.49 1577.23 673.40 1579.96 673.40C1580.86 673.40 1581.64 676.52 1582.55 676.52C1583.46 676.52 1584.24 682.58 1585.14 682.58C1586.05 682.58 1586.83 674.57 1587.74 674.57C1588.65 674.57 1589.42 674.37 1590.33 674.37C1593.06 674.37 1595.39 669.10 1598.11 669.10C1599.02 669.10 1599.80 674.57 1600.71 674.57C1601.62 674.57 1602.39 670.66 1603.30 670.66C1605.12 670.66 1606.67 659.73 1608.49 659.73C1611.21 659.73 1613.55 661.68 1616.27 661.68C1617.18 661.68 1617.96 664.03 1618.87 664.03C1619.77 664.03 1620.55 650.36 1621.46 650.36C1622.37 650.36 1623.15 646.26 1624.05 646.26C1624.96 646.26 1625.74 636.10 1626.65 636.10C1629.37 636.10 1631.71 634.34 1634.43 634.34C1635.34 634.34 1636.12 622.63 1637.02 622.63C1637.93 622.63 1638.71 620.68 1639.62 620.68C1640.53 620.68 1641.30 625.75 1642.21 625.75C1643.12 625.75 1643.90 619.11 1644.81 619.11C1647.53 619.11 1649.86 613.84 1652.59 613.84C1653.50 613.84 1654.27 617.94 1655.18 617.94C1656.09 617.94 1656.87 609.74 1657.78 609.74C1658.68 609.74 1659.46 618.14 1660.37 618.14C1661.28 618.14 1662.06 578.50 1662.96 578.50C1665.69 578.50 1668.02 581.23 1670.75 581.23C1671.65 581.23 1672.43 579.87 1673.34 579.87C1674.25 579.87 1675.03 568.15 1675.93 568.15C1676.84 568.15 1677.62 572.45 1678.53 572.45C1679.44 572.45 1680.21 575.57 1681.12 575.57C1683.85 575.57 1686.18 579.08 1688.90 579.08C1690.72 579.08 1692.28 578.69 1694.09 578.69C1695.00 578.69 1695.78 583.58 1696.69 583.58C1697.59 583.58 1698.37 591.39 1699.28 591.39C1702.00 591.39 1704.34 576.16 1707.06 576.16C1708.88 576.16 1710.43 563.27 1712.25 563.27C1713.16 563.27 1713.94 574.79 1714.84 574.79C1715.75 574.79 1716.53 567.37 1717.44 567.37C1720.16 567.37 1722.50 571.08 1725.22 571.08C1726.13 571.08 1726.91 567.17 1727.81 567.17C1728.72 567.17 1729.50 557.02 1730.41 557.02C1731.32 557.02 1732.09 557.80 1733.00 557.80C1733.91 557.80 1734.69 568.15 1735.60 568.15C1738.32 568.15 1740.65 566.78 1743.38 566.78C1744.29 566.78 1745.06 566.98 1745.97 566.98C1746.88 566.98 1747.66 572.25 1748.57 572.25C1749.47 572.25 1750.25 575.18 1751.16 575.18C1752.07 575.18 1752.85 570.30 1753.75 570.30C1757.39 570.30 1760.50 570.88 1764.13 570.88C1765.04 570.88 1765.82 565.02 1766.72 565.02C1767.63 565.02 1768.41 567.95 1769.32 567.95C1770.23 567.95 1771.00 563.66 1771.91 563.66C1774.64 563.66 1776.97 565.22 1779.69 565.22C1780.60 565.22 1781.38 559.75 1782.29 559.75C1783.20 559.75 1783.97 571.08 1784.88 571.08C1785.79 571.08 1786.57 573.23 1787.48 573.23C1788.38 573.23 1789.16 563.27 1790.07 563.27C1792.79 563.27 1795.13 567.95 1797.85 567.95C1798.76 567.95 1799.54 559.95 1800.45 559.95C1801.35 559.95 1802.13 562.10 1803.04 562.10C1803.95 562.10 1804.73 568.54 1805.63 568.54C1806.54 568.54 1807.32 548.04 1808.23 548.04C1810.95 548.04 1813.29 557.41 1816.01 557.41C1816.92 557.41 1817.70 552.53 1818.60 552.53C1819.51 552.53 1820.29 554.09 1821.20 554.09C1822.11 554.09 1822.88 558.00 1823.79 558.00C1824.70 558.00 1825.48 557.60 1826.39 557.60C1830.02 557.60 1833.13 550.58 1836.76 550.58C1837.67 550.58 1838.45 554.87 1839.36 554.87C1840.26 554.87 1841.04 563.27 1841.95 563.27C1842.86 563.27 1843.64 559.17 1844.54 559.17C1847.27 559.17 1849.60 567.76 1852.33 567.76C1853.23 567.76 1854.01 558.39 1854.92 558.39C1855.83 558.39 1856.61 538.66 1857.51 538.66L1857.51 784.7L913.30 784.7Z" fill="url(#ag)"/><path d="M913.30 669.69C914.21 669.69 914.98 665.59 915.89 665.59C916.80 665.59 917.58 653.29 918.49 653.29C921.21 653.29 923.54 663.24 926.27 663.24C927.18 663.24 927.95 687.26 928.86 687.26C929.77 687.26 930.55 679.06 931.46 679.06C932.36 679.06 933.14 666.56 934.05 666.56C934.96 666.56 935.74 655.04 936.64 655.04C939.37 655.04 941.70 656.61 944.43 656.61C945.33 656.61 946.11 643.72 947.02 643.72C947.93 643.72 948.71 652.50 949.61 652.50C950.52 652.50 951.30 644.69 952.21 644.69C953.12 644.69 953.89 651.53 954.80 651.53C957.53 651.53 959.86 638.05 962.58 638.05C963.49 638.05 964.27 664.42 965.18 664.42C966.09 664.42 966.86 656.61 967.77 656.61C968.68 656.61 969.46 653.68 970.37 653.68C971.27 653.68 972.05 651.72 972.96 651.72C975.65 651.72 977.95 640.20 980.63 640.20C981.54 640.20 982.32 635.71 983.23 635.71C984.14 635.71 984.91 639.03 985.82 639.03C986.73 639.03 987.51 638.64 988.42 638.64C989.32 638.64 990.10 641.96 991.01 641.96C993.73 641.96 996.07 634.34 998.79 634.34C999.70 634.34 1000.48 641.96 1001.39 641.96C1002.29 641.96 1003.07 658.56 1003.98 658.56C1004.89 658.56 1005.67 656.02 1006.57 656.02C1010.21 656.02 1013.32 663.24 1016.95 663.24C1017.86 663.24 1018.64 675.16 1019.54 675.16C1020.45 675.16 1021.23 667.34 1022.14 667.34C1023.05 667.34 1023.82 656.80 1024.73 656.80C1025.64 656.80 1026.42 664.03 1027.33 664.03C1030.05 664.03 1032.38 670.66 1035.11 670.66C1036.02 670.66 1036.79 651.14 1037.70 651.14C1038.61 651.14 1039.39 659.92 1040.30 659.92C1041.20 659.92 1041.98 669.30 1042.89 669.30C1043.80 669.30 1044.58 666.37 1045.48 666.37C1048.21 666.37 1050.54 674.96 1053.27 674.96C1054.17 674.96 1054.95 679.26 1055.86 679.26C1056.77 679.26 1057.55 665.00 1058.45 665.00C1059.36 665.00 1060.14 662.46 1061.05 662.46C1061.96 662.46 1062.73 656.21 1063.64 656.21C1066.37 656.21 1068.70 656.80 1071.42 656.80C1072.33 656.80 1073.11 652.50 1074.02 652.50C1074.93 652.50 1075.70 652.70 1076.61 652.70C1077.52 652.70 1078.30 661.29 1079.21 661.29C1080.11 661.29 1080.89 675.16 1081.80 675.16C1084.52 675.16 1086.86 676.91 1089.58 676.91C1090.49 676.91 1091.27 673.98 1092.18 673.98C1093.08 673.98 1093.86 676.91 1094.77 676.91C1095.68 676.91 1096.46 688.63 1097.36 688.63C1098.27 688.63 1099.05 683.16 1099.96 683.16C1102.68 683.16 1105.02 682.58 1107.74 682.58C1108.65 682.58 1109.43 680.62 1110.33 680.62C1111.24 680.62 1112.02 680.04 1112.93 680.04C1113.84 680.04 1114.61 686.87 1115.52 686.87C1116.43 686.87 1117.21 700.54 1118.12 700.54C1120.84 700.54 1123.17 686.87 1125.90 686.87C1126.81 686.87 1127.58 686.87 1128.49 686.87C1129.40 686.87 1130.18 683.55 1131.09 683.55C1131.99 683.55 1132.77 696.05 1133.68 696.05C1134.59 696.05 1135.37 694.88 1136.27 694.88C1139.91 694.88 1143.02 686.09 1146.65 686.09C1147.56 686.09 1148.34 700.93 1149.24 700.93C1150.15 700.93 1150.93 705.62 1151.84 705.62C1152.75 705.62 1153.52 729.63 1154.43 729.63C1157.16 729.63 1159.49 720.07 1162.21 720.07C1163.12 720.07 1163.90 712.45 1164.81 712.45C1165.72 712.45 1166.49 693.12 1167.40 693.12C1168.31 693.12 1169.09 700.34 1170.00 700.34C1170.90 700.34 1171.68 693.90 1172.59 693.90C1175.31 693.90 1177.65 704.05 1180.37 704.05C1181.28 704.05 1182.06 691.56 1182.97 691.56C1183.87 691.56 1184.65 691.17 1185.56 691.17C1186.47 691.17 1187.25 693.51 1188.15 693.51C1189.06 693.51 1189.84 679.45 1190.75 679.45C1193.47 679.45 1195.81 674.76 1198.53 674.76C1199.44 674.76 1200.22 669.69 1201.12 669.69C1202.03 669.69 1202.81 687.26 1203.72 687.26C1204.63 687.26 1205.40 702.10 1206.31 702.10C1207.22 702.10 1208.00 695.46 1208.91 695.46C1211.63 695.46 1213.96 709.72 1216.69 709.72C1217.60 709.72 1218.37 705.23 1219.28 705.23C1220.19 705.23 1220.97 698.59 1221.88 698.59C1222.78 698.59 1223.56 703.27 1224.47 703.27C1225.38 703.27 1226.16 679.84 1227.06 679.84C1229.79 679.84 1232.12 683.36 1234.85 683.36C1235.75 683.36 1236.53 677.11 1237.44 677.11C1239.26 677.11 1240.81 676.72 1242.63 676.72C1243.54 676.72 1244.31 699.37 1245.22 699.37C1247.95 699.37 1250.28 717.72 1253.00 717.72C1253.91 717.72 1254.69 717.53 1255.60 717.53C1256.51 717.53 1257.28 722.21 1258.19 722.21C1259.10 722.21 1259.88 723.39 1260.79 723.39C1261.69 723.39 1262.47 713.43 1263.38 713.43C1266.10 713.43 1268.44 718.31 1271.16 718.31C1272.07 718.31 1272.85 713.43 1273.76 713.43C1274.66 713.43 1275.44 698.20 1276.35 698.20C1277.26 698.20 1278.04 689.21 1278.94 689.21C1279.85 689.21 1280.63 699.17 1281.54 699.17C1284.26 699.17 1286.60 713.62 1289.32 713.62C1290.23 713.62 1291.01 725.73 1291.91 725.73C1292.82 725.73 1293.60 719.68 1294.51 719.68C1295.42 719.68 1296.19 707.57 1297.10 707.57C1298.01 707.57 1298.79 689.21 1299.70 689.21C1302.42 689.21 1304.75 706.40 1307.48 706.40C1308.39 706.40 1309.16 708.94 1310.07 708.94C1310.98 708.94 1311.76 712.65 1312.67 712.65C1313.57 712.65 1314.35 714.79 1315.26 714.79C1316.17 714.79 1316.95 686.68 1317.85 686.68C1320.58 686.68 1322.91 684.33 1325.64 684.33C1326.54 684.33 1327.32 679.84 1328.23 679.84C1329.14 679.84 1329.92 677.11 1330.82 677.11C1331.73 677.11 1332.51 674.37 1333.42 674.37C1334.33 674.37 1335.10 674.57 1336.01 674.57C1338.74 674.57 1341.07 681.79 1343.79 681.79C1344.70 681.79 1345.48 685.11 1346.39 685.11C1347.30 685.11 1348.07 669.30 1348.98 669.30C1349.89 669.30 1350.67 654.85 1351.58 654.85C1352.48 654.85 1353.26 651.92 1354.17 651.92C1356.89 651.92 1359.23 649.58 1361.95 649.58C1362.86 649.58 1363.64 652.89 1364.55 652.89C1365.45 652.89 1366.23 651.14 1367.14 651.14C1368.05 651.14 1368.83 657.78 1369.73 657.78C1370.64 657.78 1371.42 681.99 1372.33 681.99C1375.05 681.99 1377.39 680.82 1380.11 680.82C1381.02 680.82 1381.80 685.90 1382.70 685.90C1383.61 685.90 1384.39 687.85 1385.30 687.85C1386.21 687.85 1386.98 697.61 1387.89 697.61C1388.80 697.61 1389.58 701.32 1390.49 701.32C1394.12 701.32 1397.23 698.20 1400.86 698.20C1401.77 698.20 1402.55 681.99 1403.46 681.99C1404.36 681.99 1405.14 671.64 1406.05 671.64C1406.96 671.64 1407.74 678.08 1408.64 678.08C1411.37 678.08 1413.70 684.53 1416.43 684.53C1417.33 684.53 1418.11 678.67 1419.02 678.67C1419.93 678.67 1420.71 678.87 1421.61 678.87C1422.52 678.87 1423.30 671.25 1424.21 671.25C1425.12 671.25 1425.89 660.90 1426.80 660.90C1429.53 660.90 1431.86 659.53 1434.58 659.53C1435.49 659.53 1436.27 675.94 1437.18 675.94C1438.09 675.94 1438.86 665.20 1439.77 665.20C1440.68 665.20 1441.46 637.66 1442.37 637.66C1443.27 637.66 1444.05 651.33 1444.96 651.33C1447.68 651.33 1450.02 659.53 1452.74 659.53C1453.65 659.53 1454.43 669.49 1455.34 669.49C1456.24 669.49 1457.02 676.72 1457.93 676.72C1458.84 676.72 1459.62 671.45 1460.52 671.45C1461.43 671.45 1462.21 678.47 1463.12 678.47C1465.84 678.47 1468.18 674.96 1470.90 674.96C1471.81 674.96 1472.59 675.94 1473.49 675.94C1474.40 675.94 1475.18 675.35 1476.09 675.35C1477.00 675.35 1477.77 673.79 1478.68 673.79C1479.59 673.79 1480.37 677.89 1481.28 677.89C1484.00 677.89 1486.33 682.58 1489.06 682.58C1489.97 682.58 1490.74 693.32 1491.65 693.32C1492.56 693.32 1493.34 696.63 1494.25 696.63C1495.15 696.63 1495.93 691.36 1496.84 691.36C1497.75 691.36 1498.53 688.24 1499.43 688.24C1502.16 688.24 1504.49 680.62 1507.22 680.62C1508.12 680.62 1508.90 662.85 1509.81 662.85C1510.72 662.85 1511.50 658.95 1512.40 658.95C1513.31 658.95 1514.09 658.17 1515.00 658.17C1515.91 658.17 1516.68 662.85 1517.59 662.85C1520.32 662.85 1522.65 657.97 1525.37 657.97C1526.28 657.97 1527.06 661.49 1527.97 661.49C1528.88 661.49 1529.65 660.51 1530.56 660.51C1531.47 660.51 1532.25 659.73 1533.16 659.73C1534.06 659.73 1534.84 647.82 1535.75 647.82C1540.33 647.82 1544.25 647.62 1548.83 647.62C1549.74 647.62 1550.51 640.98 1551.42 640.98C1552.33 640.98 1553.11 640.40 1554.02 640.40C1556.74 640.40 1559.07 643.33 1561.80 643.33C1562.71 643.33 1563.48 640.40 1564.39 640.40C1565.30 640.40 1566.08 658.36 1566.99 658.36C1567.89 658.36 1568.67 667.93 1569.58 667.93C1570.49 667.93 1571.27 669.49 1572.17 669.49C1574.90 669.49 1577.23 673.40 1579.96 673.40C1580.86 673.40 1581.64 676.52 1582.55 676.52C1583.46 676.52 1584.24 682.58 1585.14 682.58C1586.05 682.58 1586.83 674.57 1587.74 674.57C1588.65 674.57 1589.42 674.37 1590.33 674.37C1593.06 674.37 1595.39 669.10 1598.11 669.10C1599.02 669.10 1599.80 674.57 1600.71 674.57C1601.62 674.57 1602.39 670.66 1603.30 670.66C1605.12 670.66 1606.67 659.73 1608.49 659.73C1611.21 659.73 1613.55 661.68 1616.27 661.68C1617.18 661.68 1617.96 664.03 1618.87 664.03C1619.77 664.03 1620.55 650.36 1621.46 650.36C1622.37 650.36 1623.15 646.26 1624.05 646.26C1624.96 646.26 1625.74 636.10 1626.65 636.10C1629.37 636.10 1631.71 634.34 1634.43 634.34C1635.34 634.34 1636.12 622.63 1637.02 622.63C1637.93 622.63 1638.71 620.68 1639.62 620.68C1640.53 620.68 1641.30 625.75 1642.21 625.75C1643.12 625.75 1643.90 619.11 1644.81 619.11C1647.53 619.11 1649.86 613.84 1652.59 613.84C1653.50 613.84 1654.27 617.94 1655.18 617.94C1656.09 617.94 1656.87 609.74 1657.78 609.74C1658.68 609.74 1659.46 618.14 1660.37 618.14C1661.28 618.14 1662.06 578.50 1662.96 578.50C1665.69 578.50 1668.02 581.23 1670.75 581.23C1671.65 581.23 1672.43 579.87 1673.34 579.87C1674.25 579.87 1675.03 568.15 1675.93 568.15C1676.84 568.15 1677.62 572.45 1678.53 572.45C1679.44 572.45 1680.21 575.57 1681.12 575.57C1683.85 575.57 1686.18 579.08 1688.90 579.08C1690.72 579.08 1692.28 578.69 1694.09 578.69C1695.00 578.69 1695.78 583.58 1696.69 583.58C1697.59 583.58 1698.37 591.39 1699.28 591.39C1702.00 591.39 1704.34 576.16 1707.06 576.16C1708.88 576.16 1710.43 563.27 1712.25 563.27C1713.16 563.27 1713.94 574.79 1714.84 574.79C1715.75 574.79 1716.53 567.37 1717.44 567.37C1720.16 567.37 1722.50 571.08 1725.22 571.08C1726.13 571.08 1726.91 567.17 1727.81 567.17C1728.72 567.17 1729.50 557.02 1730.41 557.02C1731.32 557.02 1732.09 557.80 1733.00 557.80C1733.91 557.80 1734.69 568.15 1735.60 568.15C1738.32 568.15 1740.65 566.78 1743.38 566.78C1744.29 566.78 1745.06 566.98 1745.97 566.98C1746.88 566.98 1747.66 572.25 1748.57 572.25C1749.47 572.25 1750.25 575.18 1751.16 575.18C1752.07 575.18 1752.85 570.30 1753.75 570.30C1757.39 570.30 1760.50 570.88 1764.13 570.88C1765.04 570.88 1765.82 565.02 1766.72 565.02C1767.63 565.02 1768.41 567.95 1769.32 567.95C1770.23 567.95 1771.00 563.66 1771.91 563.66C1774.64 563.66 1776.97 565.22 1779.69 565.22C1780.60 565.22 1781.38 559.75 1782.29 559.75C1783.20 559.75 1783.97 571.08 1784.88 571.08C1785.79 571.08 1786.57 573.23 1787.48 573.23C1788.38 573.23 1789.16 563.27 1790.07 563.27C1792.79 563.27 1795.13 567.95 1797.85 567.95C1798.76 567.95 1799.54 559.95 1800.45 559.95C1801.35 559.95 1802.13 562.10 1803.04 562.10C1803.95 562.10 1804.73 568.54 1805.63 568.54C1806.54 568.54 1807.32 548.04 1808.23 548.04C1810.95 548.04 1813.29 557.41 1816.01 557.41C1816.92 557.41 1817.70 552.53 1818.60 552.53C1819.51 552.53 1820.29 554.09 1821.20 554.09C1822.11 554.09 1822.88 558.00 1823.79 558.00C1824.70 558.00 1825.48 557.60 1826.39 557.60C1830.02 557.60 1833.13 550.58 1836.76 550.58C1837.67 550.58 1838.45 554.87 1839.36 554.87C1840.26 554.87 1841.04 563.27 1841.95 563.27C1842.86 563.27 1843.64 559.17 1844.54 559.17C1847.27 559.17 1849.60 567.76 1852.33 567.76C1853.23 567.76 1854.01 558.39 1854.92 558.39C1855.83 558.39 1856.61 538.66 1857.51 538.66" fill="none" stroke="#8fbd56" stroke-width="1.300" stroke-linejoin="round"/><text x="905.300" y="493.95" text-anchor="end" font-size="11" fill="#606069">42.00</text><text x="905.300" y="552.53" text-anchor="end" font-size="11" fill="#606069">39.00</text><text x="905.300" y="611.11" text-anchor="end" font-size="11" fill="#606069">36.00</text><text x="905.300" y="669.69" text-anchor="end" font-size="11" fill="#606069">33.00</text><text x="905.300" y="728.27" text-anchor="end" font-size="11" fill="#606069">30.00</text><text x="905.300" y="786.85" text-anchor="end" font-size="11" fill="#606069">27.00</text><text x="918" y="810" text-anchor="middle" font-size="12" fill="#6c6c75">Mar '12</text><text x="998.75" y="810" text-anchor="middle" font-size="12" fill="#6c6c75">Apr '12</text><text x="1076.3" y="810" text-anchor="middle" font-size="12" fill="#6c6c75">May '12</text><text x="1156.8" y="810" text-anchor="middle" font-size="12" fill="#6c6c75">Jun '12</text><text x="1234.6" y="810" text-anchor="middle" font-size="12" fill="#6c6c75">Jul '12</text><text x="1315" y="810" text-anchor="middle" font-size="12" fill="#6c6c75">Aug '12</text><text x="1395.7" y="810" text-anchor="middle" font-size="12" fill="#6c6c75">Sep '12</text><text x="1473.7" y="810" text-anchor="middle" font-size="12" fill="#6c6c75">Oct '12</text><text x="1554" y="810" text-anchor="middle" font-size="12" fill="#6c6c75">Nov '12</text><text x="1631.6" y="810" text-anchor="middle" font-size="12" fill="#6c6c75">Dec '12</text><text x="1712.1" y="810" text-anchor="middle" font-size="12" fill="#6c6c75" font-weight="bold">2013</text><text x="1792.7" y="810" text-anchor="middle" font-size="12" fill="#6c6c75">Feb '13</text></svg>
<div class="card" style="left:298px;top:880px;width:515px;height:448.5px;"></div>
<span class="t wm" style="left:318.40px;top:896.96px;font-size:16px;letter-spacing:0.943px;color:#3a4053;">Daily Activity</span>
<div class="hr" style="left:298px;top:930px;width:515px;height:1px;"></div>
<div style="left:337.4px;top:966px;width:1px;height:292px;background:#edeef2;"></div>
<div style="left:332px;top:959.6px;width:12px;height:12px;background:#8fbd56;border-radius:50%;"></div>
<span class="t wm" style="left:377.00px;top:957.45px;font-size:14px;letter-spacing:0.305px;color:#3c4152;">New Products Introduced</span>
<span class="t" style="left:377.00px;top:980.40px;font-size:13px;letter-spacing:0.159px;color:#6c6f7c;">Lorem ipsum dolor sit. <span class="wm" style="color:#8fbd56;">Product Light Launched</span></span>
<span class="t" style="left:745.00px;top:957.40px;font-size:13px;letter-spacing:-0.425px;color:#5f6270;">1:43 pm</span>
<div style="left:332px;top:1032.7px;width:12px;height:12px;background:#e984b0;border-radius:50%;"></div>
<span class="t wm" style="left:377.00px;top:1030.55px;font-size:14px;letter-spacing:0.234px;color:#3c4152;">Hermoine Replied</span>
<span class="t" style="left:377.00px;top:1053.50px;font-size:13px;letter-spacing:0.203px;color:#6c6f7c;">Hermoine replied to your post on  <span class="wm" style="color:#8fbd56;">Detailed Blog</span></span>
<span class="t" style="left:745.20px;top:1030.50px;font-size:13px;letter-spacing:-0.453px;color:#5f6270;">6:12 am</span>
<div style="left:332px;top:1105.8px;width:12px;height:12px;background:#4fa6ec;border-radius:50%;"></div>
<span class="t wm" style="left:377.00px;top:1103.65px;font-size:14px;letter-spacing:0.023px;color:#3c4152;">New Request</span>
<span class="t" style="left:377.00px;top:1126.60px;font-size:13px;letter-spacing:0.194px;color:#6c6f7c;">Corner sent you a request  <span class="wm" style="color:#8fbd56;">Facebook</span></span>
<span class="t" style="left:741.20px;top:1103.60px;font-size:13px;letter-spacing:-0.680px;color:#5f6270;">11:22 am</span>
<div style="left:332px;top:1178.9px;width:12px;height:12px;background:#e9be47;border-radius:50%;"></div>
<span class="t wm" style="left:377.00px;top:1176.75px;font-size:14px;letter-spacing:0.080px;color:#3c4152;">Task Due</span>
<span class="t" style="left:377.00px;top:1199.70px;font-size:13px;letter-spacing:0.216px;color:#6c6f7c;">Task has to be completed  <span class="wm" style="color:#8fbd56;">New Project</span></span>
<span class="t" style="left:741.80px;top:1176.70px;font-size:13px;letter-spacing:0.032px;color:#5f6270;">4:32 pm</span>
<div style="left:332px;top:1252px;width:12px;height:12px;background:#8fbd56;border-radius:50%;"></div>
<span class="t wm" style="left:377.00px;top:1249.85px;font-size:14px;letter-spacing:0.232px;color:#3c4152;">Maggice Liked</span>
<span class="t" style="left:377.00px;top:1272.80px;font-size:13px;letter-spacing:0.226px;color:#6c6f7c;">Maggice bruce liked your article  <span class="wm" style="color:#8fbd56;">Article on Projects</span></span>
<span class="t" style="left:722.10px;top:1249.80px;font-size:13px;letter-spacing:0.331px;color:#5f6270;">5 mins ago</span>
<div class="card" style="left:837.3px;top:880px;width:515.4px;height:448.5px;"></div>
<span class="t wm" style="left:858.40px;top:896.96px;font-size:16px;letter-spacing:0.916px;color:#3a4053;">Timeline</span>
<div class="hr" style="left:837.3px;top:930px;width:515.4px;height:1px;"></div>
<div style="left:892.8px;top:978px;width:1px;height:280px;background:#f0f1f5;"></div>
<svg style="left:873.300px;top:955px" width="42" height="45" viewBox="0 0 42 45"><ellipse cx="20.900" cy="22.400" rx="20.900" ry="22.400" fill="#f1f6ea"/><g transform="translate(20.900 22.300) scale(.92) translate(-20 -20.300)" fill="none" stroke="#8fbd56" stroke-width="1.350" stroke-linecap="round" stroke-linejoin="round"><circle cx="18.400" cy="16.600" r="2.900"/><path d="M12.800 26.200v-1a3.400 3.400 0 0 1 3.400-3.400h4.400a3.400 3.400 0 0 1 3.400 3.400v1"/><path d="M26.200 15.800v4.400M24 18h4.400"/></g></svg>
<span class="t" style="left:930.00px;top:962.65px;font-size:14px;letter-spacing:0.411px;color:#3c4152;">Mr White Started following you</span>
<span class="t" style="left:930.00px;top:983.00px;font-size:13px;letter-spacing:-0.370px;color:#5f6270;">10 Jan 2022</span>
<div style="left:1289.2px;top:963px;width:27.6px;height:17.6px;background:#8fbd56;border-radius:3px;"></div>
<span class="t wm" style="left:1294.98px;top:966.39px;font-size:11px;letter-spacing:0.382px;color:#fff;">1m</span>
<svg style="left:873.300px;top:1025px" width="42" height="45" viewBox="0 0 42 45"><ellipse cx="20.900" cy="22.400" rx="20.900" ry="22.400" fill="#fdeef5"/><g transform="translate(20.900 22.300) scale(.92) translate(-20 -20.300)" fill="none" stroke="#e984b0" stroke-width="1.350" stroke-linecap="round" stroke-linejoin="round"><path d="M27 19.600a6.600 6.600 0 0 1-9.800 5.800L13.400 26.600l1.200-3.800A6.600 6.600 0 1 1 27 19.600z"/></g></svg>
<span class="t" style="left:930.00px;top:1032.65px;font-size:14px;letter-spacing:0.514px;color:#3c4152;">Caroline 1 Commented applied</span>
<span class="t" style="left:930.00px;top:1053.00px;font-size:13px;letter-spacing:-0.015px;color:#5f6270;">09 Jan 2022</span>
<div style="left:1285.8px;top:1033px;width:31px;height:17.6px;background:#e984b0;border-radius:3px;"></div>
<span class="t wm" style="left:1293.28px;top:1036.39px;font-size:11px;letter-spacing:0.382px;color:#fff;">2m</span>
<svg style="left:873.300px;top:1095px" width="42" height="45" viewBox="0 0 42 45"><ellipse cx="20.900" cy="22.400" rx="20.900" ry="22.400" fill="#eaf4fd"/><g transform="translate(20.900 22.300) scale(.92) translate(-20 -20.300)" fill="none" stroke="#4fa6ec" stroke-width="1.350" stroke-linecap="round" stroke-linejoin="round"><rect x="14.800" y="14.800" width="10.400" height="12.400" rx="1.300"/><rect x="17.600" y="13.200" width="4.800" height="3" rx=".8"/></g></svg>
<span class="t" style="left:930.00px;top:1102.65px;font-size:14px;letter-spacing:0.515px;color:#3c4152;"><span class="" style="color:#5aaaf0;">Juliette</span> posted a new article</span>
<span class="t" style="left:930.00px;top:1123.00px;font-size:13px;letter-spacing:-0.170px;color:#5f6270;">07 Jan 2022</span>
<div style="left:1285.8px;top:1103px;width:31px;height:17.6px;background:#4fa6ec;border-radius:3px;"></div>
<span class="t wm" style="left:1293.28px;top:1106.39px;font-size:11px;letter-spacing:0.382px;color:#fff;">3m</span>
<svg style="left:873.300px;top:1165px" width="42" height="45" viewBox="0 0 42 45"><ellipse cx="20.900" cy="22.400" rx="20.900" ry="22.400" fill="#fdf8ea"/><g transform="translate(20.900 22.300) scale(.92) translate(-20 -20.300)" fill="none" stroke="#e9be47" stroke-width="1.350" stroke-linecap="round" stroke-linejoin="round"><path d="M17.200 19.400 20 13.400a1.900 1.900 0 0 1 1.900 1.900v2.500h3.500a1.300 1.300 0 0 1 1.300 1.500l-.9 5.600a1.300 1.300 0 0 1-1.300 1.100h-7.300z"/><path d="M17.200 26h-2.100a1.200 1.200 0 0 1-1.200-1.200v-4.200a1.200 1.200 0 0 1 1.200-1.200h2.100"/></g></svg>
<span class="t" style="left:930.00px;top:1172.65px;font-size:14px;letter-spacing:0.333px;color:#3c4152;">Akimov liked your site</span>
<span class="t" style="left:930.00px;top:1193.00px;font-size:13px;letter-spacing:-0.211px;color:#5f6270;">07 Dec 2022</span>
<div style="left:1285.8px;top:1173px;width:31px;height:17.6px;background:#e9be47;border-radius:3px;"></div>
<span class="t wm" style="left:1293.28px;top:1176.39px;font-size:11px;letter-spacing:0.382px;color:#fff;">4m</span>
<svg style="left:873.300px;top:1235px" width="42" height="45" viewBox="0 0 42 45"><ellipse cx="20.900" cy="22.400" rx="20.900" ry="22.400" fill="#f1f6ea"/><g transform="translate(20.900 22.300) scale(.92) translate(-20 -20.300)" fill="none" stroke="#8fbd56" stroke-width="1.350" stroke-linecap="round" stroke-linejoin="round"><path d="M14.600 25.400V15.200a1.800 1.800 0 0 1 1.800-1.800h9v13.200h-9a1.800 1.800 0 0 1 0-3.600h9"/></g></svg>
<span class="t" style="left:930.00px;top:1242.65px;font-size:14px;letter-spacing:0.418px;color:#3c4152;">Emilie sent you a feedback</span>
<span class="t" style="left:930.00px;top:1263.00px;font-size:13px;letter-spacing:-0.015px;color:#5f6270;">06 Jan 2022</span>
<div style="left:1285.8px;top:1243px;width:31px;height:17.6px;background:#f7761f;border-radius:3px;"></div>
<span class="t wm" style="left:1293.28px;top:1246.39px;font-size:11px;letter-spacing:0.382px;color:#fff;">5m</span>
<div class="card" style="left:1376.7px;top:880px;width:515.3px;height:448.5px;"></div>
<span class="t wm" style="left:1397.60px;top:896.96px;font-size:16px;letter-spacing:0.677px;color:#3a4053;">To-Do List</span>
<div class="hr" style="left:1376.7px;top:930px;width:515.3px;height:1px;"></div>
<div style="left:1417px;top:964.8px;width:3px;height:26px;background:#8fbd56;"></div>
<svg style="left:1433px;top:968px" width="18" height="18" viewBox="0 0 18 18"><rect width="18" height="18" rx="4" fill="#8fbd56"/><path d="M4.800 9.200 7.800 12.200 13.400 6.400" fill="none" stroke="#fff" stroke-width="2" stroke-linecap="round" stroke-linejoin="round"/></svg>
<span class="t" style="left:1477.00px;top:963.45px;font-size:14px;letter-spacing:0.365px;color:#4b4f5f;">Design a UI Dashboard for client</span>
<span class="t" style="left:1477.00px;top:984.24px;font-size:12px;letter-spacing:0.788px;color:#6c6f7c;">3 days remaining</span>
<div style="left:1816.2px;top:960.8px;width:39.4px;height:27.6px;background:#fff;border:1px solid #eef0f4;border-radius:4px;"></div>
<span class="t wm" style="left:1824.90px;top:969.04px;font-size:12px;letter-spacing:0.330px;color:#767b8c;">Edit</span>
<div style="left:1417px;top:1034.8px;width:3px;height:26px;background:#e984b0;"></div>
<svg style="left:1433px;top:1038px" width="18" height="18" viewBox="0 0 18 18"><rect width="18" height="18" rx="4" fill="#e984b0"/><path d="M4.800 9.200 7.800 12.200 13.400 6.400" fill="none" stroke="#fff" stroke-width="2" stroke-linecap="round" stroke-linejoin="round"/></svg>
<span class="t" style="left:1477.00px;top:1033.45px;font-size:14px;letter-spacing:0.365px;color:#4b4f5f;">Design a UI Dashboard for client</span>
<span class="t" style="left:1477.00px;top:1054.24px;font-size:12px;letter-spacing:0.788px;color:#6c6f7c;">3 days remaining</span>
<div style="left:1816.2px;top:1030.8px;width:39.4px;height:27.6px;background:#fff;border:1px solid #eef0f4;border-radius:4px;"></div>
<span class="t wm" style="left:1824.90px;top:1039.04px;font-size:12px;letter-spacing:0.330px;color:#767b8c;">Edit</span>
<div style="left:1417px;top:1104.8px;width:3px;height:26px;background:#4fa6ec;"></div>
<div style="left:1433px;top:1108px;width:18px;height:18px;background:#fff;border:1px solid #f0f2f5;border-radius:4px;"></div>
<span class="t" style="left:1477.00px;top:1103.45px;font-size:14px;letter-spacing:0.365px;color:#4b4f5f;">Design a UI Dashboard for client</span>
<span class="t" style="left:1477.00px;top:1124.24px;font-size:12px;letter-spacing:0.788px;color:#6c6f7c;">3 days remaining</span>
<div style="left:1816.2px;top:1100.8px;width:39.4px;height:27.6px;background:#fff;border:1px solid #eef0f4;border-radius:4px;"></div>
<span class="t wm" style="left:1824.90px;top:1109.04px;font-size:12px;letter-spacing:0.330px;color:#767b8c;">Edit</span>
<div style="left:1417px;top:1174.8px;width:3px;height:26px;background:#e9be47;"></div>
<svg style="left:1433px;top:1178px" width="18" height="18" viewBox="0 0 18 18"><rect width="18" height="18" rx="4" fill="#e9be47"/><path d="M4.800 9.200 7.800 12.200 13.400 6.400" fill="none" stroke="#fff" stroke-width="2" stroke-linecap="round" stroke-linejoin="round"/></svg>
<span class="t" style="left:1477.00px;top:1173.45px;font-size:14px;letter-spacing:0.365px;color:#4b4f5f;">Design a UI Dashboard for client</span>
<span class="t" style="left:1477.00px;top:1194.24px;font-size:12px;letter-spacing:0.788px;color:#6c6f7c;">3 days remaining</span>
<div style="left:1816.2px;top:1170.8px;width:39.4px;height:27.6px;background:#fff;border:1px solid #eef0f4;border-radius:4px;"></div>
<span class="t wm" style="left:1824.90px;top:1179.04px;font-size:12px;letter-spacing:0.330px;color:#767b8c;">Edit</span>
<div style="left:1417px;top:1244.8px;width:3px;height:26px;background:#8fbd56;"></div>
<div style="left:1433px;top:1248px;width:18px;height:18px;background:#fff;border:1px solid #f0f2f5;border-radius:4px;"></div>
<span class="t" style="left:1477.00px;top:1243.45px;font-size:14px;letter-spacing:0.365px;color:#4b4f5f;">Design a UI Dashboard for client</span>
<span class="t" style="left:1477.00px;top:1264.24px;font-size:12px;letter-spacing:0.788px;color:#6c6f7c;">3 days remaining</span>
<div style="left:1816.2px;top:1240.8px;width:39.4px;height:27.6px;background:#fff;border:1px solid #eef0f4;border-radius:4px;"></div>
<span class="t wm" style="left:1824.90px;top:1249.04px;font-size:12px;letter-spacing:0.330px;color:#767b8c;">Edit</span>
<div class="card" style="left:298px;top:1353px;width:1594px;height:543.5px;"></div>
<span class="t" style="left:318.50px;top:1376.66px;font-size:16px;letter-spacing:0.473px;color:#3c4152;">Task List</span>
<div style="left:1697.3px;top:1369px;width:174px;height:29px;background:#fff;border:1px solid #eef0f4;border-radius:4px;"></div>
<span class="t" style="left:1705.80px;top:1376.15px;font-size:14px;letter-spacing:0.537px;color:#4b4f5f;">Search Here</span>
<div class="hr" style="left:298px;top:1414px;width:1594px;height:1px;"></div>
<div style="left:322.5px;top:1439px;width:1545px;height:1px;background:#f2f3f6;"></div>
<div style="left:322.5px;top:1485px;width:1545px;height:1px;background:#f2f3f6;"></div>
<div style="left:322.5px;top:1550px;width:1545px;height:1px;background:#f2f3f6;"></div>
<div style="left:322.5px;top:1615px;width:1545px;height:1px;background:#f2f3f6;"></div>
<div style="left:322.5px;top:1680px;width:1545px;height:1px;background:#f2f3f6;"></div>
<div style="left:322.5px;top:1745px;width:1545px;height:1px;background:#f2f3f6;"></div>
<div style="left:322.5px;top:1810px;width:1545px;height:1px;background:#f2f3f6;"></div>
<div style="left:322px;top:1439.5px;width:1px;height:371px;background:#f2f3f6;"></div>
<div style="left:633.7px;top:1439.5px;width:1px;height:371px;background:#f2f3f6;"></div>
<div style="left:1045.9px;top:1439.5px;width:1px;height:371px;background:#f2f3f6;"></div>
<div style="left:1264.9px;top:1439.5px;width:1px;height:371px;background:#f2f3f6;"></div>
<div style="left:1435px;top:1439.5px;width:1px;height:371px;background:#f2f3f6;"></div>
<div style="left:1669.8px;top:1439.5px;width:1px;height:371px;background:#f2f3f6;"></div>
<div style="left:1867px;top:1439.5px;width:1px;height:371px;background:#f2f3f6;"></div>
<span class="t wm" style="left:353.60px;top:1455.34px;font-size:13.3px;letter-spacing:-0.020px;color:#2c3245;">ASSIGNED TO</span>
<span class="t wm" style="left:665.90px;top:1455.34px;font-size:13.3px;letter-spacing:-0.088px;color:#2c3245;">TASK</span>
<span class="t wm" style="left:1077.20px;top:1455.34px;font-size:13.3px;letter-spacing:0.061px;color:#2c3245;">PROJECT</span>
<span class="t wm" style="left:1296.40px;top:1455.34px;font-size:13.3px;letter-spacing:-0.158px;color:#2c3245;">DUE DATE</span>
<span class="t wm" style="left:1466.70px;top:1455.34px;font-size:13.3px;letter-spacing:0.084px;color:#2c3245;">STATUS</span>
<span class="t wm" style="left:1701.50px;top:1455.34px;font-size:13.3px;letter-spacing:0.242px;color:#2c3245;">ACTION</span>
<svg style="left:353px;top:1497.8px" width="40" height="40" viewBox="0 0 40 40"><defs><clipPath id="av0"><circle cx="20" cy="20" r="20"/></clipPath><filter id="blav0" x="-15%" y="-15%" width="130%" height="130%"><feGaussianBlur stdDeviation="0.85"/></filter></defs><g clip-path="url(#av0)"><g filter="url(#blav0)"><rect x="-3" y="-3" width="46" height="46" fill="#6b604d"/><ellipse cx="4" cy="24" rx="7" ry="9" fill="#4b4a3a"/><ellipse cx="36" cy="22" rx="6" ry="12" fill="#544e44"/><ellipse cx="33" cy="32" rx="7" ry="6" fill="#3d4038"/><ellipse cx="11" cy="6" rx="4.500" ry="5.500" fill="#c9a57f" transform="rotate(30 11 6)"/><path d="M-2 42c1-5 5-7.500 10-8.500l7-2 9-2 6 2c4 1.500 8 4 9 10.500z" fill="#1e2529"/><path d="M15.500 36.500h7.500l.5 5h-8.500z" fill="#8d9294"/><path d="M14.500 27l9.500 1-1 8.500h-7.500z" fill="#b9744f"/><ellipse cx="22.300" cy="19.800" rx="8.700" ry="10.300" fill="#d8976f"/><ellipse cx="11" cy="20.500" rx="1.600" ry="2.600" fill="#dba27c"/><path d="M10.800 18c-1.200-9 3-16.500 11.500-17 8-.4 12 5 10.500 15-1-3.500-2.500-5.500-4.500-6.800-4 .8-9 .6-12.500-.4-1.800 2.200-3 5-3.200 9.200-.8.500-1.400.3-1.800 0z" fill="#13161d"/><path d="M16.800 14.300h4.500M26 14.300h4" stroke="#3a2318" stroke-width="1.500"/><path d="M18.800 21.800q4 3.600 8.400.2-4.200 1-8.400-.2z" fill="#f3ebe4" stroke="#7a3e30" stroke-width=".7"/><path d="M24 29.400l11 2.500v10h-9z" fill="#1a2024"/></g></g></svg>
<span class="t wm" style="left:401.20px;top:1500.35px;font-size:14px;letter-spacing:0.415px;color:#2c3245;">Daniel Obrien</span>
<span class="t" style="left:401.20px;top:1519.65px;font-size:14px;letter-spacing:0.434px;color:#6c6f7c;">member@spruko.com</span>
<span class="t" style="left:665.90px;top:1509.65px;font-size:14px;letter-spacing:0.564px;color:#3c4152;">Diam lorem dolor no lorem.</span>
<span class="t" style="left:1077.40px;top:1509.65px;font-size:14px;letter-spacing:0.090px;color:#3c4152;">Noa Dashboard UI</span>
<span class="t" style="left:1296.40px;top:1509.65px;font-size:14px;letter-spacing:-0.563px;color:#de2e55;">01 Nov 2021</span>
<div style="left:1466.4px;top:1501.8px;width:106px;height:31px;background:#fff;border:1px solid #eceef2;border-radius:5px;"></div>
<div style="left:1477px;top:1511.9px;width:10px;height:10px;background:#e9be47;border-radius:50%;"></div>
<span class="t wm" style="left:1491.60px;top:1509.25px;font-size:14px;letter-spacing:0.206px;color:#6e7387;">On Hold</span>
<svg style="left:1549.7px;top:1514.2px" width="9" height="6" viewBox="0 0 9 6"><path d="M.8 1 4.500 4.700 8.200 1" fill="none" stroke="#6e7387" stroke-width="1.100" stroke-linecap="round" stroke-linejoin="round"/></svg>
<div style="left:1701.2px;top:1504px;width:27.4px;height:28px;background:#fff;border:1px solid #8fbd56;border-radius:3.500px;"></div>
<svg style="left:1701.2px;top:1504.7px" width="27.600" height="27.600" viewBox="0 0 27.600 27.600"><g fill="none" stroke="#8fbd56" stroke-width="1.100" stroke-linecap="round" stroke-linejoin="round"><circle cx="13.700" cy="13.900" r="5"/><path d="M11.400 14 13.100 15.700 16.300 12.300"/></g></svg>
<div style="left:1737.2px;top:1504px;width:27.4px;height:28px;background:#fff;border:1px solid #e984b0;border-radius:3.500px;"></div>
<svg style="left:1737.2px;top:1504.7px" width="27.600" height="27.600" viewBox="0 0 27.600 27.600"><g fill="none" stroke="#e984b0" stroke-width="1.100" stroke-linecap="round" stroke-linejoin="round"><path d="M8.800 11.200h10"/><path d="M11.400 11.200 12 9.300h3.600l.6 1.900"/><path d="M9.900 11.400v6.400a.8.800 0 0 0 .8.800h6.200a.8.800 0 0 0 .8-.8v-6.400"/><path d="M12.600 13.600v3M15 13.600v3"/></g></svg>
<div style="left:1773.2px;top:1504px;width:27.4px;height:28px;background:#fff;border:1px solid #8fbd56;border-radius:3.500px;"></div>
<svg style="left:1773.2px;top:1504.7px" width="27.600" height="27.600" viewBox="0 0 27.600 27.600"><g fill="#8fbd56"><circle cx="13.800" cy="10.300" r="1.050"/><circle cx="13.800" cy="13.900" r="1.050"/><circle cx="13.800" cy="17.500" r="1.050"/></g></svg>
<svg style="left:353px;top:1562.8px" width="40" height="40" viewBox="0 0 40 40"><defs><clipPath id="av1"><circle cx="20" cy="20" r="20"/></clipPath><filter id="blav1" x="-15%" y="-15%" width="130%" height="130%"><feGaussianBlur stdDeviation="0.85"/></filter></defs><g clip-path="url(#av1)"><g filter="url(#blav1)"><rect x="-3" y="-3" width="46" height="46" fill="#9b9468"/><ellipse cx="5" cy="11" rx="7" ry="6" fill="#3f5529"/><ellipse cx="4" cy="24" rx="6" ry="8" fill="#b5a873"/><ellipse cx="39" cy="18" rx="3" ry="8" fill="#a99d6b"/><path d="M8 42c-1-14-1-30 5-37 4-4 12-5.500 18-2 6 4 8 14 7 26l-3 13z" fill="#3a2925"/><path d="M14 42l1.500-9h12l2 9z" fill="#b57f62"/><path d="M20.500 5.500c6 0 9.500 5 9.500 13.500 0 8.500-4 15.200-9.300 15.200S11 27.500 11 19C11 10.500 14.500 5.500 20.500 5.500z" fill="#c89e88"/><ellipse cx="21" cy="23.500" rx="1.600" ry="2.400" fill="#e2b8a2"/><path d="M15 16.500q2.500-1.200 5 0M24 16.500q2.500-1.200 5 0" stroke="#3b2a26" stroke-width="1.500" fill="none"/><path d="M15.500 17.800h4.300M24.300 17.800h4.300" stroke="#5b463f" stroke-width="1"/><path d="M17.200 28.600q3 1.300 6 0" stroke="#a85f5a" stroke-width="1.400" fill="none"/><path d="M10.500 18c-1 6-.5 14 2 21l-5 3c-1-9-.5-19 .5-25z" fill="#33231f"/></g></g></svg>
<span class="t wm" style="left:401.20px;top:1565.35px;font-size:14px;letter-spacing:0.332px;color:#2c3245;">Emilie Benett</span>
<span class="t" style="left:401.20px;top:1584.65px;font-size:14px;letter-spacing:0.434px;color:#6c6f7c;">member@spruko.com</span>
<span class="t" style="left:665.90px;top:1574.65px;font-size:14px;letter-spacing:0.632px;color:#3c4152;">Rebum gubergren at kasd takimata clita.</span>
<span class="t" style="left:1077.40px;top:1574.65px;font-size:14px;letter-spacing:0.090px;color:#3c4152;">Noa Dashboard UI</span>
<span class="t" style="left:1296.40px;top:1574.65px;font-size:14px;letter-spacing:-0.161px;color:#de2e55;">29 Oct 2021</span>
<div style="left:1466.4px;top:1566.8px;width:130px;height:31px;background:#fff;border:1px solid #eceef2;border-radius:5px;"></div>
<div style="left:1477px;top:1576.9px;width:10px;height:10px;background:#8fbd56;border-radius:50%;"></div>
<span class="t wm" style="left:1491.60px;top:1574.25px;font-size:14px;letter-spacing:0.911px;color:#6e7387;">Completed</span>
<svg style="left:1572.8px;top:1579.2px" width="9" height="6" viewBox="0 0 9 6"><path d="M.8 1 4.500 4.700 8.200 1" fill="none" stroke="#6e7387" stroke-width="1.100" stroke-linecap="round" stroke-linejoin="round"/></svg>
<div style="left:1701.2px;top:1569px;width:27.4px;height:28px;background:#fff;border:1px solid #8fbd56;border-radius:3.500px;"></div>
<svg style="left:1701.2px;top:1569.7px" width="27.600" height="27.600" viewBox="0 0 27.600 27.600"><g fill="none" stroke="#8fbd56" stroke-width="1.100" stroke-linecap="round" stroke-linejoin="round"><circle cx="13.700" cy="13.900" r="5"/><path d="M11.400 14 13.100 15.700 16.300 12.300"/></g></svg>
<div style="left:1737.2px;top:1569px;width:27.4px;height:28px;background:#fff;border:1px solid #e984b0;border-radius:3.500px;"></div>
<svg style="left:1737.2px;top:1569.7px" width="27.600" height="27.600" viewBox="0 0 27.600 27.600"><g fill="none" stroke="#e984b0" stroke-width="1.100" stroke-linecap="round" stroke-linejoin="round"><path d="M8.800 11.200h10"/><path d="M11.400 11.200 12 9.300h3.600l.6 1.900"/><path d="M9.900 11.400v6.400a.8.800 0 0 0 .8.800h6.200a.8.800 0 0 0 .8-.8v-6.400"/><path d="M12.600 13.600v3M15 13.600v3"/></g></svg>
<div style="left:1773.2px;top:1569px;width:27.4px;height:28px;background:#fff;border:1px solid #8fbd56;border-radius:3.500px;"></div>
<svg style="left:1773.2px;top:1569.7px" width="27.600" height="27.600" viewBox="0 0 27.600 27.600"><g fill="#8fbd56"><circle cx="13.800" cy="10.300" r="1.050"/><circle cx="13.800" cy="13.900" r="1.050"/><circle cx="13.800" cy="17.500" r="1.050"/></g></svg>
<svg style="left:353px;top:1627.8px" width="40" height="40" viewBox="0 0 40 40"><defs><clipPath id="av2"><circle cx="20" cy="20" r="20"/></clipPath><filter id="blav2" x="-15%" y="-15%" width="130%" height="130%"><feGaussianBlur stdDeviation="0.85"/></filter></defs><g clip-path="url(#av2)"><g filter="url(#blav2)"><rect x="-3" y="-3" width="46" height="46" fill="#52661b"/><ellipse cx="37" cy="20" rx="5" ry="9" fill="#29321b"/><ellipse cx="3" cy="20" rx="3.500" ry="8" fill="#6b8423"/><path d="M3 35C1 22 5 6 14 3.500c6-2 13-1 16.500 4 4 6 4.500 16 4 24l-2 10H6z" fill="#a4825a"/><path d="M6 30c-1-8 1-18 5-22l4 4c-3 5-4 12-3 20z" fill="#7e6242"/><path d="M29 12c3 6 3 15 2 24l3-2c1-8 .5-17-2-23z" fill="#c2a074"/><path d="M14 4c4-1.500 9-1 13 2l-4 3c-3-2-6-2.500-9-1z" fill="#c2a074"/><path d="M5 42l1-8 10-6 6 14z" fill="#1b2a55"/><path d="M28 42l-3-6 4-3 3 9z" fill="#1b2a55"/><path d="M17 28.500l7 1 3.500 12.500h-6z" fill="#d9a680"/><ellipse cx="21.300" cy="18.200" rx="7.300" ry="11" fill="#e6bfa6"/><path d="M14 15c.5-5 3-8 7.500-8.200 3 0 5.500 1.500 7 5-3-1.500-6-1.800-8.500-1-2.500 1-4.500 2.500-6 4.200z" fill="#9c7a52"/><path d="M16.300 15.700h3.700M23.800 15.700h3.700" stroke="#4a3028" stroke-width="1.600"/><path d="M18.300 22.300q3.500 3.300 7.400 0-3.700 1-7.400 0z" fill="#fbf3ee" stroke="#c46a66" stroke-width=".9"/></g></g></svg>
<span class="t wm" style="left:401.20px;top:1630.35px;font-size:14px;letter-spacing:0.413px;color:#2c3245;">Olena Tyrell</span>
<span class="t" style="left:401.20px;top:1649.65px;font-size:14px;letter-spacing:0.434px;color:#6c6f7c;">member@spruko.com</span>
<span class="t" style="left:665.90px;top:1639.65px;font-size:14px;letter-spacing:0.304px;color:#3c4152;">Est sea erat at kasd.</span>
<span class="t" style="left:1077.40px;top:1639.65px;font-size:14px;letter-spacing:0.090px;color:#3c4152;">Noa Dashboard UI</span>
<span class="t" style="left:1296.40px;top:1639.65px;font-size:14px;letter-spacing:-0.209px;color:#de2e55;">04 Nov 2021</span>
<div style="left:1466.4px;top:1631.8px;width:128px;height:31px;background:#fff;border:1px solid #eceef2;border-radius:5px;"></div>
<div style="left:1477px;top:1641.9px;width:10px;height:10px;background:#4fa6ec;border-radius:50%;"></div>
<span class="t wm" style="left:1491.60px;top:1639.25px;font-size:14px;letter-spacing:0.310px;color:#6e7387;">In Progress</span>
<svg style="left:1571.9px;top:1644.2px" width="9" height="6" viewBox="0 0 9 6"><path d="M.8 1 4.500 4.700 8.200 1" fill="none" stroke="#6e7387" stroke-width="1.100" stroke-linecap="round" stroke-linejoin="round"/></svg>
<div style="left:1701.2px;top:1634px;width:27.4px;height:28px;background:#fff;border:1px solid #8fbd56;border-radius:3.500px;"></div>
<svg style="left:1701.2px;top:1634.7px" width="27.600" height="27.600" viewBox="0 0 27.600 27.600"><g fill="none" stroke="#8fbd56" stroke-width="1.100" stroke-linecap="round" stroke-linejoin="round"><circle cx="13.700" cy="13.900" r="5"/><path d="M11.400 14 13.100 15.700 16.300 12.300"/></g></svg>
<div style="left:1737.2px;top:1634px;width:27.4px;height:28px;background:#fff;border:1px solid #e984b0;border-radius:3.500px;"></div>
<svg style="left:1737.2px;top:1634.7px" width="27.600" height="27.600" viewBox="0 0 27.600 27.600"><g fill="none" stroke="#e984b0" stroke-width="1.100" stroke-linecap="round" stroke-linejoin="round"><path d="M8.800 11.200h10"/><path d="M11.400 11.200 12 9.300h3.600l.6 1.900"/><path d="M9.900 11.400v6.400a.8.800 0 0 0 .8.800h6.200a.8.800 0 0 0 .8-.8v-6.400"/><path d="M12.600 13.600v3M15 13.600v3"/></g></svg>
<div style="left:1773.2px;top:1634px;width:27.4px;height:28px;background:#fff;border:1px solid #8fbd56;border-radius:3.500px;"></div>
<svg style="left:1773.2px;top:1634.7px" width="27.600" height="27.600" viewBox="0 0 27.600 27.600"><g fill="#8fbd56"><circle cx="13.800" cy="10.300" r="1.050"/><circle cx="13.800" cy="13.900" r="1.050"/><circle cx="13.800" cy="17.500" r="1.050"/></g></svg>
<svg style="left:353px;top:1692.8px" width="40" height="40" viewBox="0 0 40 40"><defs><clipPath id="av3"><circle cx="20" cy="20" r="20"/></clipPath><filter id="blav3" x="-15%" y="-15%" width="130%" height="130%"><feGaussianBlur stdDeviation="0.85"/></filter></defs><g clip-path="url(#av3)"><g filter="url(#blav3)"><rect x="-3" y="-3" width="46" height="46" fill="#e3e9ee"/><ellipse cx="10" cy="12" rx="5" ry="7" fill="#76805f"/><ellipse cx="6" cy="24" rx="7" ry="7" fill="#a4953c"/><ellipse cx="6" cy="31" rx="6" ry="5" fill="#6f743a"/><ellipse cx="36" cy="19" rx="5.500" ry="8" fill="#e2b262"/><ellipse cx="36" cy="28" rx="4" ry="4" fill="#c9a45c"/><path d="M2 42l2-9 12-5 6 14z" fill="#5e4b49"/><path d="M30 42l2-12 6 1 2 6-3 5z" fill="#5a4846"/><path d="M12 22c0-4 3-6.500 7-6l2 10 8 .5 1-7c3 0 7 2 7.500 6l-1 8-5 8.500H19l-4-9c-2-2-3-7-3-11z" fill="#151a25"/><path d="M22.500 24l5 .5 .5 7.500-3 2-2-2z" fill="#d9a794"/><ellipse cx="23" cy="15" rx="7.400" ry="9.800" fill="#d39d88"/><path d="M21.500 18c3-1 6-.5 8 1-.5 3.500-2.500 5.800-5.500 5.800-1.500 0-2.500-.8-3.300-2z" fill="#a08a85"/><path d="M15.300 13c-.8-6.500 2-11.500 7.500-12 5.500-.3 8.500 3.500 8 9.500-1-2.500-2-3.800-3.500-4.500-3 1-6.500 1-9 .3-1.500 1.500-2.500 3.500-3 6.700z" fill="#59403a"/><path d="M18 12.600h3.800M25.200 12.600h3.800" stroke="#5c403a" stroke-width="1.300"/><path d="M20.800 19.600q2.800 1.800 5.600 0" stroke="#f6eeea" stroke-width="1" fill="none"/></g></g></svg>
<span class="t wm" style="left:401.20px;top:1695.35px;font-size:14px;letter-spacing:0.276px;color:#2c3245;">Skyler Hilda</span>
<span class="t" style="left:401.20px;top:1714.65px;font-size:14px;letter-spacing:0.434px;color:#6c6f7c;">member@spruko.com</span>
<span class="t" style="left:665.90px;top:1704.65px;font-size:14px;letter-spacing:0.536px;color:#3c4152;">Sit sed takimata sanctus invidunt.</span>
<span class="t" style="left:1077.40px;top:1704.65px;font-size:14px;letter-spacing:0.090px;color:#3c4152;">Noa Dashboard UI</span>
<span class="t" style="left:1296.40px;top:1704.65px;font-size:14px;letter-spacing:-0.516px;color:#de2e55;">31 Oct 2021</span>
<div style="left:1466.4px;top:1696.8px;width:128px;height:31px;background:#fff;border:1px solid #eceef2;border-radius:5px;"></div>
<div style="left:1477px;top:1706.9px;width:10px;height:10px;background:#4fa6ec;border-radius:50%;"></div>
<span class="t wm" style="left:1491.60px;top:1704.25px;font-size:14px;letter-spacing:0.310px;color:#6e7387;">In Progress</span>
<svg style="left:1571.9px;top:1709.2px" width="9" height="6" viewBox="0 0 9 6"><path d="M.8 1 4.500 4.700 8.200 1" fill="none" stroke="#6e7387" stroke-width="1.100" stroke-linecap="round" stroke-linejoin="round"/></svg>
<div style="left:1701.2px;top:1699px;width:27.4px;height:28px;background:#fff;border:1px solid #8fbd56;border-radius:3.500px;"></div>
<svg style="left:1701.2px;top:1699.7px" width="27.600" height="27.600" viewBox="0 0 27.600 27.600"><g fill="none" stroke="#8fbd56" stroke-width="1.100" stroke-linecap="round" stroke-linejoin="round"><circle cx="13.700" cy="13.900" r="5"/><path d="M11.400 14 13.100 15.700 16.300 12.300"/></g></svg>
<div style="left:1737.2px;top:1699px;width:27.4px;height:28px;background:#fff;border:1px solid #e984b0;border-radius:3.500px;"></div>
<svg style="left:1737.2px;top:1699.7px" width="27.600" height="27.600" viewBox="0 0 27.600 27.600"><g fill="none" stroke="#e984b0" stroke-width="1.100" stroke-linecap="round" stroke-linejoin="round"><path d="M8.800 11.200h10"/><path d="M11.400 11.200 12 9.300h3.600l.6 1.900"/><path d="M9.900 11.400v6.400a.8.800 0 0 0 .8.800h6.200a.8.800 0 0 0 .8-.8v-6.400"/><path d="M12.600 13.600v3M15 13.600v3"/></g></svg>
<div style="left:1773.2px;top:1699px;width:27.4px;height:28px;background:#fff;border:1px solid #8fbd56;border-radius:3.500px;"></div>
<svg style="left:1773.2px;top:1699.7px" width="27.600" height="27.600" viewBox="0 0 27.600 27.600"><g fill="#8fbd56"><circle cx="13.800" cy="10.300" r="1.050"/><circle cx="13.800" cy="13.900" r="1.050"/><circle cx="13.800" cy="17.500" r="1.050"/></g></svg>
<svg style="left:353px;top:1757.8px" width="40" height="40" viewBox="0 0 40 40"><defs><clipPath id="av4"><circle cx="20" cy="20" r="20"/></clipPath><filter id="blav4" x="-15%" y="-15%" width="130%" height="130%"><feGaussianBlur stdDeviation="0.85"/></filter></defs><g clip-path="url(#av4)"><g filter="url(#blav4)"><rect x="-3" y="-3" width="46" height="46" fill="#4d4649"/><rect x="-1" y="14" width="8" height="18" fill="#2b2b2e"/><rect x="6" y="9" width="4" height="20" fill="#b06b3b"/><rect x="26.500" y="7" width="6" height="23" fill="#c8713b"/><rect x="32.500" y="8" width="7" height="26" fill="#6b5b5b"/><rect x="10" y="6" width="4" height="20" fill="#5b4a4c"/><path d="M3 42l1-10.500 9-6.500 7.500 17z" fill="#2f4b72"/><path d="M37 42l-1.500-10.500-7.500-6.500-7.500 17z" fill="#2f4b72"/><path d="M13 25l7.500 4 7.500-4-5 17h-5z" fill="#dfe5f3"/><path d="M19 29.500h3.200l1.300 12.500h-5.500z" fill="#1c2947"/><path d="M16 21h9v6l-4.500 2.500L16 27z" fill="#cf9a80"/><ellipse cx="20.600" cy="16" rx="7.300" ry="8.800" fill="#dca68d"/><path d="M13.300 13c-.6-6 2.500-10 7.500-10.200 5-.2 8 3 7.300 9.200-1-2.500-2-3.800-3.200-4.300-3 .8-6.200.8-8.800.2-1.500 1.200-2.300 2.800-2.800 5.100z" fill="#27252d"/><path d="M14 20.500c.8 3.500 3 5.800 6.500 5.800s5.500-2.300 6.300-5.800c-1.800 1.800-4 2.200-6.300 2.200s-4.500-.4-6.500-2.200z" fill="#6a4038"/><path d="M15.500 19.800q2.300-1.300 4.600 0" stroke="#4a2c2c" stroke-width="1.400" fill="none"/><g fill="none" stroke="#26232b" stroke-width="1.200"><rect x="13.300" y="12.800" width="5.800" height="3.800" rx="1"/><rect x="21.300" y="12.800" width="5.800" height="3.800" rx="1"/><path d="M19.100 14.200h2.200"/></g></g></g></svg>
<span class="t wm" style="left:401.20px;top:1760.35px;font-size:14px;letter-spacing:0.582px;color:#2c3245;">William Turner</span>
<span class="t" style="left:401.20px;top:1779.65px;font-size:14px;letter-spacing:0.434px;color:#6c6f7c;">member@spruko.com</span>
<span class="t" style="left:665.90px;top:1769.65px;font-size:14px;letter-spacing:0.501px;color:#3c4152;">Amet clita sea ut dolor consetetur, elitr.</span>
<span class="t" style="left:1077.40px;top:1769.65px;font-size:14px;letter-spacing:0.090px;color:#3c4152;">Noa Dashboard UI</span>
<span class="t" style="left:1296.40px;top:1769.65px;font-size:14px;letter-spacing:-0.209px;color:#de2e55;">08 Nov 2021</span>
<div style="left:1466.4px;top:1761.8px;width:106px;height:31px;background:#fff;border:1px solid #eceef2;border-radius:5px;"></div>
<div style="left:1477px;top:1771.9px;width:10px;height:10px;background:#e9be47;border-radius:50%;"></div>
<span class="t wm" style="left:1491.60px;top:1769.25px;font-size:14px;letter-spacing:0.206px;color:#6e7387;">On Hold</span>
<svg style="left:1549.7px;top:1774.2px" width="9" height="6" viewBox="0 0 9 6"><path d="M.8 1 4.500 4.700 8.200 1" fill="none" stroke="#6e7387" stroke-width="1.100" stroke-linecap="round" stroke-linejoin="round"/></svg>
<div style="left:1701.2px;top:1764px;width:27.4px;height:28px;background:#fff;border:1px solid #8fbd56;border-radius:3.500px;"></div>
<svg style="left:1701.2px;top:1764.7px" width="27.600" height="27.600" viewBox="0 0 27.600 27.600"><g fill="none" stroke="#8fbd56" stroke-width="1.100" stroke-linecap="round" stroke-linejoin="round"><circle cx="13.700" cy="13.900" r="5"/><path d="M11.400 14 13.100 15.700 16.300 12.300"/></g></svg>
<div style="left:1737.2px;top:1764px;width:27.4px;height:28px;background:#fff;border:1px solid #e984b0;border-radius:3.500px;"></div>
<svg style="left:1737.2px;top:1764.7px" width="27.600" height="27.600" viewBox="0 0 27.600 27.600"><g fill="none" stroke="#e984b0" stroke-width="1.100" stroke-linecap="round" stroke-linejoin="round"><path d="M8.800 11.200h10"/><path d="M11.400 11.200 12 9.300h3.600l.6 1.900"/><path d="M9.900 11.400v6.400a.8.800 0 0 0 .8.800h6.200a.8.800 0 0 0 .8-.8v-6.400"/><path d="M12.600 13.600v3M15 13.600v3"/></g></svg>
<div style="left:1773.2px;top:1764px;width:27.4px;height:28px;background:#fff;border:1px solid #8fbd56;border-radius:3.500px;"></div>
<svg style="left:1773.2px;top:1764.7px" width="27.600" height="27.600" viewBox="0 0 27.600 27.600"><g fill="#8fbd56"><circle cx="13.800" cy="10.300" r="1.050"/><circle cx="13.800" cy="13.900" r="1.050"/><circle cx="13.800" cy="17.500" r="1.050"/></g></svg>
<div class="hr" style="left:298px;top:1835px;width:1594px;height:1px;"></div>
<span class="t" style="left:318.50px;top:1857.85px;font-size:14px;letter-spacing:0.081px;color:#4b4f5f;">Showing 1 to 5 of 5 Entries</span>
<div style="left:1704.7px;top:1852px;width:166.6px;height:28.5px;background:#fff;border:1px solid #eceef3;border-radius:4px;"></div>
<div style="left:1785.2px;top:1852px;width:32px;height:28.5px;background:#8fbd56;"></div>
<span class="t" style="left:1717.75px;top:1860.00px;font-size:13px;letter-spacing:0.490px;color:#a5a8b3;">Previous</span>
<span class="t" style="left:1798.95px;top:1860.00px;font-size:13px;letter-spacing:-2.730px;color:#fff;">1</span>
<span class="t" style="left:1830.30px;top:1860.00px;font-size:13px;letter-spacing:0.317px;color:#a5a8b3;">Next</span>
<div style="left:270px;top:1921px;width:1650px;height:52px;background:#fff;border-top:1px solid #eceef3;"></div>
<span class="t" style="left:866.40px;top:1938.65px;font-size:14px;letter-spacing:0.388px;color:#4b4f5f;">Copyright © 2023 <span class="" style="color:#8fbd56;">noa</span>. Designed with </span>
<svg style="left:1116.4px;top:1939px" width="13" height="12" viewBox="0 0 13 12"><path d="M6.500 11.300C1.800 7.800.4 5.600.4 3.500A3.100 3.100 0 0 1 6.500 2.300 3.100 3.100 0 0 1 12.600 3.500c0 2.100-1.400 4.300-6.100 7.800z" fill="#e0284f"/></svg>
<span class="t" style="left:1133.90px;top:1938.65px;font-size:14px;letter-spacing:0.390px;color:#4b4f5f;">by <span class="" style="color:#8fbd56;text-decoration:underline;">Spruko</span> All rights reserved</span>
<div style="left:1860px;top:1913px;width:40px;height:40px;background:#8fbd56;border-radius:5px;box-shadow:0 3px 8px rgba(0,0,0,.150);"></div>
<svg style="left:1875px;top:1929.500px" width="10" height="6" viewBox="0 0 10 6"><path d="M0 5.800 5 .4l5 5.400z" fill="#fff"/></svg>
</body></html>
